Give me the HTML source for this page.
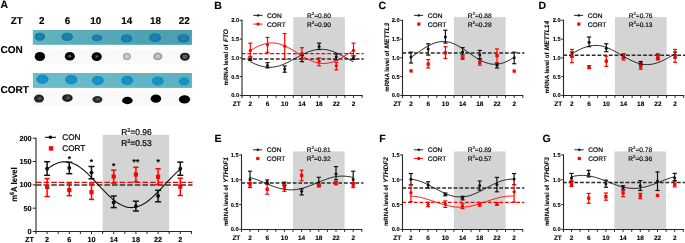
<!DOCTYPE html>
<html><head><meta charset="utf-8"><style>
html,body{margin:0;padding:0;background:#fff;width:685px;height:243px;overflow:hidden;}
svg{display:block;will-change:transform;text-rendering:geometricPrecision;font-family:"Liberation Sans", sans-serif;}
</style></head><body>
<svg width="685" height="243" viewBox="0 0 685 243">
<rect width="685" height="243" fill="#fff"/>
<defs><filter id="b1" x="-50%" y="-50%" width="200%" height="200%"><feGaussianBlur stdDeviation="0.9"/></filter><filter id="b2" x="-50%" y="-50%" width="200%" height="200%"><feGaussianBlur stdDeviation="0.6"/></filter><filter id="b3" x="-50%" y="-50%" width="200%" height="200%"><feGaussianBlur stdDeviation="0.55"/></filter></defs>
<text x="0.50" y="8.00" font-size="10.4" font-weight="bold" text-anchor="start" fill="#000" stroke="#000" stroke-width="0.12"  >A</text>
<text x="10.70" y="24.20" font-size="9.9" font-weight="bold" text-anchor="start" fill="#000" stroke="#000" stroke-width="0.12"  >ZT</text>
<text x="41.70" y="24.20" font-size="9.9" font-weight="bold" text-anchor="middle" fill="#000" stroke="#000" stroke-width="0.12"  >2</text>
<text x="67.40" y="24.20" font-size="9.9" font-weight="bold" text-anchor="middle" fill="#000" stroke="#000" stroke-width="0.12"  >6</text>
<text x="95.80" y="24.20" font-size="9.9" font-weight="bold" text-anchor="middle" fill="#000" stroke="#000" stroke-width="0.12"  >10</text>
<text x="126.80" y="24.20" font-size="9.9" font-weight="bold" text-anchor="middle" fill="#000" stroke="#000" stroke-width="0.12"  >14</text>
<text x="155.60" y="24.20" font-size="9.9" font-weight="bold" text-anchor="middle" fill="#000" stroke="#000" stroke-width="0.12"  >18</text>
<text x="184.30" y="24.20" font-size="9.9" font-weight="bold" text-anchor="middle" fill="#000" stroke="#000" stroke-width="0.12"  >22</text>
<text x="0.60" y="53.00" font-size="10" font-weight="bold" text-anchor="start" fill="#000" stroke="#000" stroke-width="0.12"  >CON</text>
<text x="0.60" y="93.20" font-size="10" font-weight="bold" text-anchor="start" fill="#000" stroke="#000" stroke-width="0.12"  >CORT</text>
<defs><linearGradient id="g1" x1="0" x2="1" y1="0" y2="0"><stop offset="0" stop-color="#64b4c2"/><stop offset="0.35" stop-color="#5aabba"/><stop offset="0.7" stop-color="#4da1b1"/><stop offset="1" stop-color="#4b9fb0"/></linearGradient><linearGradient id="g2" x1="0" x2="1" y1="0" y2="0"><stop offset="0" stop-color="#6cbcca"/><stop offset="0.5" stop-color="#67b8c7"/><stop offset="1" stop-color="#5aafbf"/></linearGradient><radialGradient id="s1"><stop offset="0" stop-color="#1f86b0"/><stop offset="0.6" stop-color="#167fab"/><stop offset="1" stop-color="#0e77a3"/></radialGradient><radialGradient id="s2"><stop offset="0" stop-color="#1a94c6"/><stop offset="0.7" stop-color="#1590c3"/><stop offset="1" stop-color="#118abd"/></radialGradient></defs>
<rect x="32.8" y="30" width="159.1" height="14.8" fill="url(#g1)"/>
<ellipse cx="39.8" cy="36.7" rx="5.3" ry="4.0" fill="url(#s1)" filter="url(#b2)"/>
<ellipse cx="67.2" cy="36.8" rx="5.9" ry="4.1" fill="url(#s1)" filter="url(#b2)"/>
<ellipse cx="97" cy="37.9" rx="5.3" ry="3.4" fill="url(#s1)" filter="url(#b2)"/>
<ellipse cx="126.6" cy="38.4" rx="5.7" ry="4.2" fill="url(#s1)" filter="url(#b2)"/>
<ellipse cx="155.1" cy="37.6" rx="6.0" ry="4.3" fill="url(#s1)" filter="url(#b2)"/>
<ellipse cx="183.5" cy="38.4" rx="5.9" ry="4.2" fill="url(#s1)" filter="url(#b2)"/>
<rect x="32.6" y="49.2" width="159.5" height="14.7" fill="#f9f9f9"/>
<ellipse cx="39.9" cy="56.5" rx="5.2" ry="4.6" fill="#000" filter="url(#b3)"/>
<ellipse cx="69.8" cy="56.3" rx="5.0" ry="4.3" fill="#030303" filter="url(#b3)"/>
<ellipse cx="69.8" cy="56.3" rx="1.50" ry="1.29" fill="#666" filter="url(#b2)"/>
<ellipse cx="96.7" cy="56.6" rx="5.1" ry="4.4" fill="#030303" filter="url(#b3)"/>
<ellipse cx="96.7" cy="56.6" rx="1.53" ry="1.32" fill="#555" filter="url(#b2)"/>
<ellipse cx="126.9" cy="56.4" rx="4.0" ry="3.6" fill="#ababab" filter="url(#b3)"/>
<ellipse cx="126.9" cy="56.4" rx="2.20" ry="1.98" fill="#cfcfcf" filter="url(#b2)"/>
<ellipse cx="157.8" cy="56.4" rx="4.7" ry="3.9" fill="#a3a3a3" filter="url(#b3)"/>
<ellipse cx="157.8" cy="56.4" rx="2.59" ry="2.15" fill="#c4c4c4" filter="url(#b2)"/>
<ellipse cx="184.9" cy="56.7" rx="4.9" ry="4.0" fill="#1e1e1e" filter="url(#b3)"/>
<ellipse cx="184.9" cy="56.7" rx="2.70" ry="2.20" fill="#5a5a5a" filter="url(#b2)"/>
<rect x="32.9" y="73" width="159" height="14.9" fill="url(#g2)"/>
<ellipse cx="42.4" cy="79.3" rx="6.1" ry="4.7" fill="url(#s2)" filter="url(#b2)"/>
<ellipse cx="71.2" cy="79.7" rx="6.2" ry="4.8" fill="url(#s2)" filter="url(#b2)"/>
<ellipse cx="97.8" cy="80.6" rx="6.0" ry="4.6" fill="url(#s2)" filter="url(#b2)"/>
<ellipse cx="127.2" cy="80.4" rx="6.1" ry="4.6" fill="url(#s2)" filter="url(#b2)"/>
<ellipse cx="157.8" cy="81" rx="5.9" ry="4.6" fill="url(#s2)" filter="url(#b2)"/>
<ellipse cx="184" cy="81.4" rx="5.1" ry="3.9" fill="url(#s2)" filter="url(#b2)"/>
<rect x="32.6" y="90.9" width="159.3" height="15.3" fill="#f9f9f9"/>
<ellipse cx="39" cy="98.6" rx="5.0" ry="4.0" fill="#262626" filter="url(#b3)"/>
<ellipse cx="39.6" cy="98.3" rx="2.25" ry="1.60" fill="#505050" filter="url(#b2)"/>
<ellipse cx="67.4" cy="98.1" rx="5.3" ry="3.9" fill="#202020" filter="url(#b3)"/>
<ellipse cx="68.0" cy="97.8" rx="2.38" ry="1.56" fill="#505050" filter="url(#b2)"/>
<ellipse cx="97.4" cy="99.5" rx="5.0" ry="3.4" fill="#2c2c2c" filter="url(#b3)"/>
<ellipse cx="98.0" cy="99.2" rx="2.25" ry="1.36" fill="#505050" filter="url(#b2)"/>
<ellipse cx="127.4" cy="100.5" rx="5.3" ry="3.7" fill="#000" filter="url(#b3)"/>
<ellipse cx="155.9" cy="98.7" rx="5.3" ry="4.1" fill="#000" filter="url(#b3)"/>
<ellipse cx="184.5" cy="99.4" rx="5.6" ry="4.1" fill="#000" filter="url(#b3)"/>
<rect x="102.60" y="134.8" width="66.60" height="96.70" fill="#d4d4d4"/>
<line x1="36.00" y1="182.40" x2="192.50" y2="182.40" stroke="#ff0000" stroke-width="1.4" stroke-dasharray="5.6 2"/>
<line x1="36.00" y1="185.00" x2="192.50" y2="185.00" stroke="#333" stroke-width="1.6" stroke-dasharray="5.6 2"/>
<line x1="36.00" y1="137.70" x2="36.00" y2="234.00" stroke="#262626" stroke-width="1.1" />
<line x1="36.00" y1="231.50" x2="191.90" y2="231.50" stroke="#262626" stroke-width="1.0" />
<line x1="32.70" y1="231.50" x2="36.00" y2="231.50" stroke="#262626" stroke-width="1.0" />
<text x="31.60" y="234.10" font-size="7.3" font-weight="bold" text-anchor="end" fill="#000" stroke="#000" stroke-width="0.11"  >0</text>
<line x1="32.70" y1="208.18" x2="36.00" y2="208.18" stroke="#262626" stroke-width="1.0" />
<text x="31.60" y="210.78" font-size="7.3" font-weight="bold" text-anchor="end" fill="#000" stroke="#000" stroke-width="0.11"  >50</text>
<line x1="32.70" y1="184.85" x2="36.00" y2="184.85" stroke="#262626" stroke-width="1.0" />
<text x="31.60" y="187.45" font-size="7.3" font-weight="bold" text-anchor="end" fill="#000" stroke="#000" stroke-width="0.11"  >100</text>
<line x1="32.70" y1="161.52" x2="36.00" y2="161.52" stroke="#262626" stroke-width="1.0" />
<text x="31.60" y="164.12" font-size="7.3" font-weight="bold" text-anchor="end" fill="#000" stroke="#000" stroke-width="0.11"  >150</text>
<line x1="32.70" y1="138.20" x2="36.00" y2="138.20" stroke="#262626" stroke-width="1.0" />
<text x="31.60" y="140.80" font-size="7.3" font-weight="bold" text-anchor="end" fill="#000" stroke="#000" stroke-width="0.11"  >200</text>
<line x1="47.10" y1="231.50" x2="47.10" y2="234.00" stroke="#262626" stroke-width="1.0" />
<line x1="58.20" y1="231.50" x2="58.20" y2="234.00" stroke="#262626" stroke-width="1.0" />
<line x1="69.30" y1="231.50" x2="69.30" y2="234.00" stroke="#262626" stroke-width="1.0" />
<line x1="80.40" y1="231.50" x2="80.40" y2="234.00" stroke="#262626" stroke-width="1.0" />
<line x1="91.50" y1="231.50" x2="91.50" y2="234.00" stroke="#262626" stroke-width="1.0" />
<line x1="102.60" y1="231.50" x2="102.60" y2="234.00" stroke="#262626" stroke-width="1.0" />
<line x1="113.70" y1="231.50" x2="113.70" y2="234.00" stroke="#262626" stroke-width="1.0" />
<line x1="124.80" y1="231.50" x2="124.80" y2="234.00" stroke="#262626" stroke-width="1.0" />
<line x1="135.90" y1="231.50" x2="135.90" y2="234.00" stroke="#262626" stroke-width="1.0" />
<line x1="147.00" y1="231.50" x2="147.00" y2="234.00" stroke="#262626" stroke-width="1.0" />
<line x1="158.10" y1="231.50" x2="158.10" y2="234.00" stroke="#262626" stroke-width="1.0" />
<line x1="169.20" y1="231.50" x2="169.20" y2="234.00" stroke="#262626" stroke-width="1.0" />
<line x1="180.30" y1="231.50" x2="180.30" y2="234.00" stroke="#262626" stroke-width="1.0" />
<line x1="191.40" y1="231.50" x2="191.40" y2="234.00" stroke="#262626" stroke-width="1.0" />
<text x="25.00" y="242.10" font-size="7.3" font-weight="bold" text-anchor="start" fill="#000" stroke="#000" stroke-width="0.11"  >ZT</text>
<text x="47.10" y="242.10" font-size="7.3" font-weight="bold" text-anchor="middle" fill="#000" stroke="#000" stroke-width="0.11"  >2</text>
<text x="69.30" y="242.10" font-size="7.3" font-weight="bold" text-anchor="middle" fill="#000" stroke="#000" stroke-width="0.11"  >6</text>
<text x="91.50" y="242.10" font-size="7.3" font-weight="bold" text-anchor="middle" fill="#000" stroke="#000" stroke-width="0.11"  >10</text>
<text x="113.70" y="242.10" font-size="7.3" font-weight="bold" text-anchor="middle" fill="#000" stroke="#000" stroke-width="0.11"  >14</text>
<text x="135.90" y="242.10" font-size="7.3" font-weight="bold" text-anchor="middle" fill="#000" stroke="#000" stroke-width="0.11"  >18</text>
<text x="158.10" y="242.10" font-size="7.3" font-weight="bold" text-anchor="middle" fill="#000" stroke="#000" stroke-width="0.11"  >22</text>
<text x="180.30" y="242.10" font-size="7.3" font-weight="bold" text-anchor="middle" fill="#000" stroke="#000" stroke-width="0.11"  >2</text>
<text transform="translate(17.3,184.6) rotate(-90) scale(0.92,1)" font-size="8.4" font-weight="bold" text-anchor="middle" fill="#000" stroke="#000" stroke-width="0.12">m<tspan font-size="6.0" dy="-3.3">6</tspan><tspan dy="3.3">A level</tspan></text>
<line x1="47.10" y1="178.60" x2="47.10" y2="196.50" stroke="#ff0000" stroke-width="1.5" />
<line x1="44.50" y1="178.60" x2="49.70" y2="178.60" stroke="#ff0000" stroke-width="1.5" />
<line x1="44.50" y1="196.50" x2="49.70" y2="196.50" stroke="#ff0000" stroke-width="1.5" />
<rect x="45.00" y="184.90" width="4.2" height="4.2" fill="#ff0000"/>
<line x1="69.30" y1="183.00" x2="69.30" y2="195.70" stroke="#ff0000" stroke-width="1.5" />
<line x1="66.70" y1="183.00" x2="71.90" y2="183.00" stroke="#ff0000" stroke-width="1.5" />
<line x1="66.70" y1="195.70" x2="71.90" y2="195.70" stroke="#ff0000" stroke-width="1.5" />
<rect x="67.20" y="188.00" width="4.2" height="4.2" fill="#ff0000"/>
<line x1="91.50" y1="184.00" x2="91.50" y2="199.40" stroke="#ff0000" stroke-width="1.5" />
<line x1="88.90" y1="184.00" x2="94.10" y2="184.00" stroke="#ff0000" stroke-width="1.5" />
<line x1="88.90" y1="199.40" x2="94.10" y2="199.40" stroke="#ff0000" stroke-width="1.5" />
<rect x="89.40" y="190.10" width="4.2" height="4.2" fill="#ff0000"/>
<line x1="113.70" y1="170.10" x2="113.70" y2="183.10" stroke="#ff0000" stroke-width="1.5" />
<line x1="111.10" y1="170.10" x2="116.30" y2="170.10" stroke="#ff0000" stroke-width="1.5" />
<line x1="111.10" y1="183.10" x2="116.30" y2="183.10" stroke="#ff0000" stroke-width="1.5" />
<rect x="111.60" y="174.40" width="4.2" height="4.2" fill="#ff0000"/>
<line x1="135.90" y1="167.30" x2="135.90" y2="181.70" stroke="#ff0000" stroke-width="1.5" />
<line x1="133.30" y1="167.30" x2="138.50" y2="167.30" stroke="#ff0000" stroke-width="1.5" />
<line x1="133.30" y1="181.70" x2="138.50" y2="181.70" stroke="#ff0000" stroke-width="1.5" />
<rect x="133.80" y="172.40" width="4.2" height="4.2" fill="#ff0000"/>
<line x1="158.10" y1="168.70" x2="158.10" y2="184.50" stroke="#ff0000" stroke-width="1.5" />
<line x1="155.50" y1="168.70" x2="160.70" y2="168.70" stroke="#ff0000" stroke-width="1.5" />
<line x1="155.50" y1="184.50" x2="160.70" y2="184.50" stroke="#ff0000" stroke-width="1.5" />
<rect x="156.00" y="174.70" width="4.2" height="4.2" fill="#ff0000"/>
<line x1="180.30" y1="178.20" x2="180.30" y2="195.50" stroke="#ff0000" stroke-width="1.5" />
<line x1="177.70" y1="178.20" x2="182.90" y2="178.20" stroke="#ff0000" stroke-width="1.5" />
<line x1="177.70" y1="195.50" x2="182.90" y2="195.50" stroke="#ff0000" stroke-width="1.5" />
<rect x="178.20" y="184.50" width="4.2" height="4.2" fill="#ff0000"/>
<line x1="47.10" y1="161.70" x2="47.10" y2="175.30" stroke="#111" stroke-width="1.5" />
<line x1="44.10" y1="161.70" x2="50.10" y2="161.70" stroke="#111" stroke-width="1.5" />
<line x1="44.10" y1="175.30" x2="50.10" y2="175.30" stroke="#111" stroke-width="1.5" />
<circle cx="47.10" cy="168.70" r="1.95" fill="#111"/>
<line x1="69.30" y1="162.30" x2="69.30" y2="173.70" stroke="#111" stroke-width="1.5" />
<line x1="66.30" y1="162.30" x2="72.30" y2="162.30" stroke="#111" stroke-width="1.5" />
<line x1="66.30" y1="173.70" x2="72.30" y2="173.70" stroke="#111" stroke-width="1.5" />
<circle cx="69.30" cy="167.90" r="1.95" fill="#111"/>
<line x1="91.50" y1="166.50" x2="91.50" y2="178.80" stroke="#111" stroke-width="1.5" />
<line x1="88.50" y1="166.50" x2="94.50" y2="166.50" stroke="#111" stroke-width="1.5" />
<line x1="88.50" y1="178.80" x2="94.50" y2="178.80" stroke="#111" stroke-width="1.5" />
<circle cx="91.50" cy="172.60" r="1.95" fill="#111"/>
<line x1="113.70" y1="196.00" x2="113.70" y2="207.60" stroke="#111" stroke-width="1.5" />
<line x1="110.70" y1="196.00" x2="116.70" y2="196.00" stroke="#111" stroke-width="1.5" />
<line x1="110.70" y1="207.60" x2="116.70" y2="207.60" stroke="#111" stroke-width="1.5" />
<circle cx="113.70" cy="202.40" r="1.95" fill="#111"/>
<line x1="135.90" y1="201.20" x2="135.90" y2="211.00" stroke="#111" stroke-width="1.5" />
<line x1="132.90" y1="201.20" x2="138.90" y2="201.20" stroke="#111" stroke-width="1.5" />
<line x1="132.90" y1="211.00" x2="138.90" y2="211.00" stroke="#111" stroke-width="1.5" />
<circle cx="135.90" cy="206.10" r="1.95" fill="#111"/>
<line x1="158.10" y1="190.30" x2="158.10" y2="201.80" stroke="#111" stroke-width="1.5" />
<line x1="155.10" y1="190.30" x2="161.10" y2="190.30" stroke="#111" stroke-width="1.5" />
<line x1="155.10" y1="201.80" x2="161.10" y2="201.80" stroke="#111" stroke-width="1.5" />
<circle cx="158.10" cy="196.00" r="1.95" fill="#111"/>
<line x1="180.30" y1="162.10" x2="180.30" y2="175.30" stroke="#111" stroke-width="1.5" />
<line x1="177.30" y1="162.10" x2="183.30" y2="162.10" stroke="#111" stroke-width="1.5" />
<line x1="177.30" y1="175.30" x2="183.30" y2="175.30" stroke="#111" stroke-width="1.5" />
<circle cx="180.30" cy="168.70" r="1.95" fill="#111"/>
<path d="M47.10,169.29 L49.32,167.59 L51.54,166.08 L53.76,164.77 L55.98,163.68 L58.20,162.82 L60.42,162.20 L62.64,161.83 L64.86,161.70 L67.08,161.83 L69.30,162.20 L71.52,162.82 L73.74,163.68 L75.96,164.77 L78.18,166.08 L80.40,167.59 L82.62,169.29 L84.84,171.16 L87.06,173.18 L89.28,175.32 L91.50,177.56 L93.72,179.88 L95.94,182.25 L98.16,184.65 L100.38,187.05 L102.60,189.42 L104.82,191.74 L107.04,193.98 L109.26,196.12 L111.48,198.14 L113.70,200.01 L115.92,201.71 L118.14,203.22 L120.36,204.53 L122.58,205.62 L124.80,206.48 L127.02,207.10 L129.24,207.47 L131.46,207.60 L133.68,207.47 L135.90,207.10 L138.12,206.48 L140.34,205.62 L142.56,204.53 L144.78,203.22 L147.00,201.71 L149.22,200.01 L151.44,198.14 L153.66,196.13 L155.88,193.98 L158.10,191.74 L160.32,189.42 L162.54,187.05 L164.76,184.65 L166.98,182.25 L169.20,179.88 L171.42,177.56 L173.64,175.32 L175.86,173.18 L178.08,171.16 L180.30,169.29" fill="none" stroke="#111" stroke-width="1.1"/>
<text x="69.30" y="161.70" font-size="8.5" font-weight="bold" text-anchor="middle" fill="#000" stroke="#000" stroke-width="0.12"  >*</text>
<text x="91.50" y="165.00" font-size="8.5" font-weight="bold" text-anchor="middle" fill="#000" stroke="#000" stroke-width="0.12"  >*</text>
<text x="113.70" y="168.90" font-size="8.5" font-weight="bold" text-anchor="middle" fill="#000" stroke="#000" stroke-width="0.12"  >*</text>
<text x="135.90" y="165.30" font-size="8.5" font-weight="bold" text-anchor="middle" fill="#000" stroke="#000" stroke-width="0.12"  >**</text>
<text x="158.10" y="165.30" font-size="8.5" font-weight="bold" text-anchor="middle" fill="#000" stroke="#000" stroke-width="0.12"  >*</text>
<line x1="44.90" y1="137.30" x2="56.00" y2="137.30" stroke="#111" stroke-width="1.1" />
<circle cx="50.4" cy="137.3" r="1.8" fill="#111"/>
<text x="62.30" y="140.20" font-size="8.2" font-weight="normal" text-anchor="start" fill="#000" stroke="#000" stroke-width="0.22"  >CON</text>
<rect x="48.8" y="146.2" width="4.4" height="4.4" fill="#f00"/>
<text x="62.30" y="150.90" font-size="8.2" font-weight="normal" text-anchor="start" fill="#000" stroke="#000" stroke-width="0.22"  >CORT</text>
<text x="121.20" y="135.20" font-size="8.45" font-weight="normal" text-anchor="start" fill="#000" stroke="#000" stroke-width="0.22"  >R<tspan font-size="5.4" dy="-3.1">2</tspan><tspan dy="3.1">=0.96</tspan></text>
<text x="121.20" y="146.40" font-size="8.45" font-weight="normal" text-anchor="start" fill="#000" stroke="#000" stroke-width="0.22"  >R<tspan font-size="5.4" dy="-3.1">2</tspan><tspan dy="3.1">=0.53</tspan></text>
<text x="214.20" y="8.80" font-size="10.5" font-weight="bold" text-anchor="start" fill="#000" stroke="#000" stroke-width="0.12"  >B</text>
<rect x="293.30" y="17.05" width="51.60" height="78.45" fill="#d4d4d4"/>
<line x1="241.70" y1="53.60" x2="363.70" y2="53.60" stroke="#ff0000" stroke-width="1.3" stroke-dasharray="3.8 1.9"/>
<line x1="241.70" y1="58.90" x2="363.70" y2="58.90" stroke="#2a2a2a" stroke-width="1.5" stroke-dasharray="3.8 1.9"/>
<line x1="242.00" y1="19.80" x2="242.00" y2="97.90" stroke="#262626" stroke-width="1.1" />
<line x1="242.00" y1="95.50" x2="362.60" y2="95.50" stroke="#262626" stroke-width="1.0" />
<line x1="239.70" y1="95.40" x2="242.00" y2="95.40" stroke="#262626" stroke-width="1.0" />
<text x="239.10" y="97.40" font-size="5.7" font-weight="bold" text-anchor="end" fill="#000" stroke="#000" stroke-width="0.09"  >0.0</text>
<line x1="239.70" y1="76.62" x2="242.00" y2="76.62" stroke="#262626" stroke-width="1.0" />
<text x="239.10" y="78.62" font-size="5.7" font-weight="bold" text-anchor="end" fill="#000" stroke="#000" stroke-width="0.09"  >0.5</text>
<line x1="239.70" y1="57.85" x2="242.00" y2="57.85" stroke="#262626" stroke-width="1.0" />
<text x="239.10" y="59.85" font-size="5.7" font-weight="bold" text-anchor="end" fill="#000" stroke="#000" stroke-width="0.09"  >1.0</text>
<line x1="239.70" y1="39.08" x2="242.00" y2="39.08" stroke="#262626" stroke-width="1.0" />
<text x="239.10" y="41.08" font-size="5.7" font-weight="bold" text-anchor="end" fill="#000" stroke="#000" stroke-width="0.09"  >1.5</text>
<line x1="239.70" y1="20.30" x2="242.00" y2="20.30" stroke="#262626" stroke-width="1.0" />
<text x="239.10" y="22.30" font-size="5.7" font-weight="bold" text-anchor="end" fill="#000" stroke="#000" stroke-width="0.09"  >2.0</text>
<line x1="250.30" y1="95.50" x2="250.30" y2="97.90" stroke="#262626" stroke-width="1.0" />
<line x1="258.90" y1="95.50" x2="258.90" y2="97.90" stroke="#262626" stroke-width="1.0" />
<line x1="267.50" y1="95.50" x2="267.50" y2="97.90" stroke="#262626" stroke-width="1.0" />
<line x1="276.10" y1="95.50" x2="276.10" y2="97.90" stroke="#262626" stroke-width="1.0" />
<line x1="284.70" y1="95.50" x2="284.70" y2="97.90" stroke="#262626" stroke-width="1.0" />
<line x1="293.30" y1="95.50" x2="293.30" y2="97.90" stroke="#262626" stroke-width="1.0" />
<line x1="301.90" y1="95.50" x2="301.90" y2="97.90" stroke="#262626" stroke-width="1.0" />
<line x1="310.50" y1="95.50" x2="310.50" y2="97.90" stroke="#262626" stroke-width="1.0" />
<line x1="319.10" y1="95.50" x2="319.10" y2="97.90" stroke="#262626" stroke-width="1.0" />
<line x1="327.70" y1="95.50" x2="327.70" y2="97.90" stroke="#262626" stroke-width="1.0" />
<line x1="336.30" y1="95.50" x2="336.30" y2="97.90" stroke="#262626" stroke-width="1.0" />
<line x1="344.90" y1="95.50" x2="344.90" y2="97.90" stroke="#262626" stroke-width="1.0" />
<line x1="353.50" y1="95.50" x2="353.50" y2="97.90" stroke="#262626" stroke-width="1.0" />
<line x1="362.10" y1="95.50" x2="362.10" y2="97.90" stroke="#262626" stroke-width="1.0" />
<text x="232.70" y="105.80" font-size="6.5" font-weight="bold" text-anchor="start" fill="#000" stroke="#000" stroke-width="0.10"  >ZT</text>
<text x="250.30" y="105.80" font-size="6.5" font-weight="bold" text-anchor="middle" fill="#000" stroke="#000" stroke-width="0.10"  >2</text>
<text x="267.50" y="105.80" font-size="6.5" font-weight="bold" text-anchor="middle" fill="#000" stroke="#000" stroke-width="0.10"  >6</text>
<text x="284.70" y="105.80" font-size="6.5" font-weight="bold" text-anchor="middle" fill="#000" stroke="#000" stroke-width="0.10"  >10</text>
<text x="301.90" y="105.80" font-size="6.5" font-weight="bold" text-anchor="middle" fill="#000" stroke="#000" stroke-width="0.10"  >14</text>
<text x="319.10" y="105.80" font-size="6.5" font-weight="bold" text-anchor="middle" fill="#000" stroke="#000" stroke-width="0.10"  >18</text>
<text x="336.30" y="105.80" font-size="6.5" font-weight="bold" text-anchor="middle" fill="#000" stroke="#000" stroke-width="0.10"  >22</text>
<text x="353.50" y="105.80" font-size="6.5" font-weight="bold" text-anchor="middle" fill="#000" stroke="#000" stroke-width="0.10"  >2</text>
<text transform="translate(227.80,57.25) rotate(-90)" font-size="6.1" font-weight="bold" text-anchor="middle" fill="#000" stroke="#000" stroke-width="0.08">mRNA level of<tspan dx="2.3" font-size="6.6" font-style="italic">FTO</tspan></text>
<line x1="250.30" y1="58.00" x2="250.30" y2="60.50" stroke="#111" stroke-width="1.2" />
<line x1="248.20" y1="58.00" x2="252.40" y2="58.00" stroke="#111" stroke-width="1.2" />
<line x1="248.20" y1="60.50" x2="252.40" y2="60.50" stroke="#111" stroke-width="1.2" />
<circle cx="250.30" cy="59.30" r="1.50" fill="#111"/>
<line x1="267.50" y1="62.60" x2="267.50" y2="67.90" stroke="#111" stroke-width="1.2" />
<line x1="265.40" y1="62.60" x2="269.60" y2="62.60" stroke="#111" stroke-width="1.2" />
<line x1="265.40" y1="67.90" x2="269.60" y2="67.90" stroke="#111" stroke-width="1.2" />
<circle cx="267.50" cy="65.40" r="1.50" fill="#111"/>
<line x1="284.70" y1="66.00" x2="284.70" y2="72.20" stroke="#111" stroke-width="1.2" />
<line x1="282.60" y1="66.00" x2="286.80" y2="66.00" stroke="#111" stroke-width="1.2" />
<line x1="282.60" y1="72.20" x2="286.80" y2="72.20" stroke="#111" stroke-width="1.2" />
<circle cx="284.70" cy="69.10" r="1.50" fill="#111"/>
<line x1="301.90" y1="55.50" x2="301.90" y2="61.70" stroke="#111" stroke-width="1.2" />
<line x1="299.80" y1="55.50" x2="304.00" y2="55.50" stroke="#111" stroke-width="1.2" />
<line x1="299.80" y1="61.70" x2="304.00" y2="61.70" stroke="#111" stroke-width="1.2" />
<circle cx="301.90" cy="58.50" r="1.50" fill="#111"/>
<line x1="319.10" y1="43.10" x2="319.10" y2="49.50" stroke="#111" stroke-width="1.2" />
<line x1="317.00" y1="43.10" x2="321.20" y2="43.10" stroke="#111" stroke-width="1.2" />
<line x1="317.00" y1="49.50" x2="321.20" y2="49.50" stroke="#111" stroke-width="1.2" />
<circle cx="319.10" cy="46.50" r="1.50" fill="#111"/>
<line x1="336.30" y1="54.00" x2="336.30" y2="60.10" stroke="#111" stroke-width="1.2" />
<line x1="334.20" y1="54.00" x2="338.40" y2="54.00" stroke="#111" stroke-width="1.2" />
<line x1="334.20" y1="60.10" x2="338.40" y2="60.10" stroke="#111" stroke-width="1.2" />
<circle cx="336.30" cy="56.70" r="1.50" fill="#111"/>
<line x1="353.50" y1="56.00" x2="353.50" y2="59.50" stroke="#111" stroke-width="1.2" />
<line x1="351.40" y1="56.00" x2="355.60" y2="56.00" stroke="#111" stroke-width="1.2" />
<line x1="351.40" y1="59.50" x2="355.60" y2="59.50" stroke="#111" stroke-width="1.2" />
<circle cx="353.50" cy="57.90" r="1.50" fill="#111"/>
<line x1="250.30" y1="43.20" x2="250.30" y2="56.40" stroke="#ff0000" stroke-width="1.2" />
<line x1="248.30" y1="43.20" x2="252.30" y2="43.20" stroke="#ff0000" stroke-width="1.2" />
<line x1="248.30" y1="56.40" x2="252.30" y2="56.40" stroke="#ff0000" stroke-width="1.2" />
<circle cx="250.30" cy="50.60" r="1.65" fill="#ff0000"/>
<line x1="267.50" y1="37.40" x2="267.50" y2="52.30" stroke="#ff0000" stroke-width="1.2" />
<line x1="265.50" y1="37.40" x2="269.50" y2="37.40" stroke="#ff0000" stroke-width="1.2" />
<line x1="265.50" y1="52.30" x2="269.50" y2="52.30" stroke="#ff0000" stroke-width="1.2" />
<circle cx="267.50" cy="44.80" r="1.65" fill="#ff0000"/>
<line x1="284.70" y1="33.60" x2="284.70" y2="59.30" stroke="#ff0000" stroke-width="1.2" />
<line x1="282.70" y1="33.60" x2="286.70" y2="33.60" stroke="#ff0000" stroke-width="1.2" />
<line x1="282.70" y1="59.30" x2="286.70" y2="59.30" stroke="#ff0000" stroke-width="1.2" />
<circle cx="284.70" cy="46.20" r="1.65" fill="#ff0000"/>
<line x1="301.90" y1="47.70" x2="301.90" y2="59.00" stroke="#ff0000" stroke-width="1.2" />
<line x1="299.90" y1="47.70" x2="303.90" y2="47.70" stroke="#ff0000" stroke-width="1.2" />
<line x1="299.90" y1="59.00" x2="303.90" y2="59.00" stroke="#ff0000" stroke-width="1.2" />
<circle cx="301.90" cy="53.30" r="1.65" fill="#ff0000"/>
<line x1="319.10" y1="57.90" x2="319.10" y2="65.80" stroke="#ff0000" stroke-width="1.2" />
<line x1="317.10" y1="57.90" x2="321.10" y2="57.90" stroke="#ff0000" stroke-width="1.2" />
<line x1="317.10" y1="65.80" x2="321.10" y2="65.80" stroke="#ff0000" stroke-width="1.2" />
<circle cx="319.10" cy="61.30" r="1.65" fill="#ff0000"/>
<line x1="336.30" y1="62.40" x2="336.30" y2="69.90" stroke="#ff0000" stroke-width="1.2" />
<line x1="334.30" y1="62.40" x2="338.30" y2="62.40" stroke="#ff0000" stroke-width="1.2" />
<line x1="334.30" y1="69.90" x2="338.30" y2="69.90" stroke="#ff0000" stroke-width="1.2" />
<circle cx="336.30" cy="65.80" r="1.65" fill="#ff0000"/>
<line x1="353.50" y1="43.10" x2="353.50" y2="55.60" stroke="#ff0000" stroke-width="1.2" />
<line x1="351.50" y1="43.10" x2="355.50" y2="43.10" stroke="#ff0000" stroke-width="1.2" />
<line x1="351.50" y1="55.60" x2="355.50" y2="55.60" stroke="#ff0000" stroke-width="1.2" />
<circle cx="353.50" cy="50.40" r="1.65" fill="#ff0000"/>
<path d="M250.30,61.74 L252.02,62.59 L253.74,63.40 L255.46,64.15 L257.18,64.83 L258.90,65.44 L260.62,65.97 L262.34,66.42 L264.06,66.78 L265.78,67.05 L267.50,67.22 L269.22,67.30 L270.94,67.27 L272.66,67.15 L274.38,66.93 L276.10,66.61 L277.82,66.21 L279.54,65.72 L281.26,65.14 L282.98,64.50 L284.70,63.78 L286.42,63.00 L288.14,62.17 L289.86,61.30 L291.58,60.40 L293.30,59.47 L295.02,58.54 L296.74,57.59 L298.46,56.66 L300.18,55.74 L301.90,54.86 L303.62,54.01 L305.34,53.20 L307.06,52.45 L308.78,51.77 L310.50,51.16 L312.22,50.63 L313.94,50.18 L315.66,49.82 L317.38,49.55 L319.10,49.38 L320.82,49.30 L322.54,49.33 L324.26,49.45 L325.98,49.67 L327.70,49.99 L329.42,50.39 L331.14,50.88 L332.86,51.46 L334.58,52.10 L336.30,52.82 L338.02,53.60 L339.74,54.43 L341.46,55.30 L343.18,56.20 L344.90,57.13 L346.62,58.06 L348.34,59.01 L350.06,59.94 L351.78,60.86 L353.50,61.74" fill="none" stroke="#111" stroke-width="0.9"/>
<path d="M250.30,50.53 L252.02,49.51 L253.74,48.52 L255.46,47.59 L257.18,46.72 L258.90,45.92 L260.62,45.20 L262.34,44.56 L264.06,44.02 L265.78,43.58 L267.50,43.25 L269.22,43.03 L270.94,42.91 L272.66,42.91 L274.38,43.03 L276.10,43.25 L277.82,43.58 L279.54,44.02 L281.26,44.56 L282.98,45.20 L284.70,45.92 L286.42,46.72 L288.14,47.59 L289.86,48.52 L291.58,49.51 L293.30,50.53 L295.02,51.59 L296.74,52.66 L298.46,53.74 L300.18,54.81 L301.90,55.87 L303.62,56.89 L305.34,57.88 L307.06,58.81 L308.78,59.68 L310.50,60.48 L312.22,61.20 L313.94,61.84 L315.66,62.38 L317.38,62.82 L319.10,63.15 L320.82,63.37 L322.54,63.49 L324.26,63.49 L325.98,63.37 L327.70,63.15 L329.42,62.82 L331.14,62.38 L332.86,61.84 L334.58,61.20 L336.30,60.48 L338.02,59.68 L339.74,58.81 L341.46,57.88 L343.18,56.89 L344.90,55.87 L346.62,54.81 L348.34,53.74 L350.06,52.66 L351.78,51.59 L353.50,50.53" fill="none" stroke="#ff0000" stroke-width="0.9"/>
<line x1="253.20" y1="15.40" x2="262.50" y2="15.40" stroke="#111" stroke-width="0.9" />
<circle cx="258.10" cy="15.4" r="1.2" fill="#111"/>
<text x="267.10" y="17.50" font-size="6.6" font-weight="normal" text-anchor="start" fill="#000" stroke="#000" stroke-width="0.18"  >CON</text>
<line x1="253.20" y1="24.10" x2="262.50" y2="24.10" stroke="#ff0000" stroke-width="0.9" />
<circle cx="258.10" cy="24.1" r="1.7" fill="#ff0000"/>
<text x="267.10" y="26.60" font-size="6.6" font-weight="normal" text-anchor="start" fill="#000" stroke="#000" stroke-width="0.18"  >CORT</text>
<text x="307.10" y="17.50" font-size="6.6" font-weight="normal" text-anchor="start" fill="#000" stroke="#000" stroke-width="0.18"  >R<tspan font-size="4.3" dy="-2.6">2</tspan><tspan dy="2.6">=0.80</tspan></text>
<text x="307.10" y="26.60" font-size="6.6" font-weight="normal" text-anchor="start" fill="#000" stroke="#000" stroke-width="0.18"  >R<tspan font-size="4.3" dy="-2.6">2</tspan><tspan dy="2.6">=0.90</tspan></text>
<text x="378.50" y="8.80" font-size="10.5" font-weight="bold" text-anchor="start" fill="#000" stroke="#000" stroke-width="0.12"  >C</text>
<rect x="454.00" y="17.05" width="51.60" height="78.45" fill="#d4d4d4"/>
<line x1="402.40" y1="53.00" x2="524.40" y2="53.00" stroke="#2a2a2a" stroke-width="1.5" stroke-dasharray="3.8 1.9"/>
<line x1="402.50" y1="19.80" x2="402.50" y2="97.90" stroke="#262626" stroke-width="1.1" />
<line x1="402.50" y1="95.50" x2="523.30" y2="95.50" stroke="#262626" stroke-width="1.0" />
<line x1="400.20" y1="95.40" x2="402.50" y2="95.40" stroke="#262626" stroke-width="1.0" />
<text x="399.60" y="97.40" font-size="5.7" font-weight="bold" text-anchor="end" fill="#000" stroke="#000" stroke-width="0.09"  >0.0</text>
<line x1="400.20" y1="76.62" x2="402.50" y2="76.62" stroke="#262626" stroke-width="1.0" />
<text x="399.60" y="78.62" font-size="5.7" font-weight="bold" text-anchor="end" fill="#000" stroke="#000" stroke-width="0.09"  >0.5</text>
<line x1="400.20" y1="57.85" x2="402.50" y2="57.85" stroke="#262626" stroke-width="1.0" />
<text x="399.60" y="59.85" font-size="5.7" font-weight="bold" text-anchor="end" fill="#000" stroke="#000" stroke-width="0.09"  >1.0</text>
<line x1="400.20" y1="39.08" x2="402.50" y2="39.08" stroke="#262626" stroke-width="1.0" />
<text x="399.60" y="41.08" font-size="5.7" font-weight="bold" text-anchor="end" fill="#000" stroke="#000" stroke-width="0.09"  >1.5</text>
<line x1="400.20" y1="20.30" x2="402.50" y2="20.30" stroke="#262626" stroke-width="1.0" />
<text x="399.60" y="22.30" font-size="5.7" font-weight="bold" text-anchor="end" fill="#000" stroke="#000" stroke-width="0.09"  >2.0</text>
<line x1="411.00" y1="95.50" x2="411.00" y2="97.90" stroke="#262626" stroke-width="1.0" />
<line x1="419.60" y1="95.50" x2="419.60" y2="97.90" stroke="#262626" stroke-width="1.0" />
<line x1="428.20" y1="95.50" x2="428.20" y2="97.90" stroke="#262626" stroke-width="1.0" />
<line x1="436.80" y1="95.50" x2="436.80" y2="97.90" stroke="#262626" stroke-width="1.0" />
<line x1="445.40" y1="95.50" x2="445.40" y2="97.90" stroke="#262626" stroke-width="1.0" />
<line x1="454.00" y1="95.50" x2="454.00" y2="97.90" stroke="#262626" stroke-width="1.0" />
<line x1="462.60" y1="95.50" x2="462.60" y2="97.90" stroke="#262626" stroke-width="1.0" />
<line x1="471.20" y1="95.50" x2="471.20" y2="97.90" stroke="#262626" stroke-width="1.0" />
<line x1="479.80" y1="95.50" x2="479.80" y2="97.90" stroke="#262626" stroke-width="1.0" />
<line x1="488.40" y1="95.50" x2="488.40" y2="97.90" stroke="#262626" stroke-width="1.0" />
<line x1="497.00" y1="95.50" x2="497.00" y2="97.90" stroke="#262626" stroke-width="1.0" />
<line x1="505.60" y1="95.50" x2="505.60" y2="97.90" stroke="#262626" stroke-width="1.0" />
<line x1="514.20" y1="95.50" x2="514.20" y2="97.90" stroke="#262626" stroke-width="1.0" />
<line x1="522.80" y1="95.50" x2="522.80" y2="97.90" stroke="#262626" stroke-width="1.0" />
<text x="393.40" y="105.80" font-size="6.5" font-weight="bold" text-anchor="start" fill="#000" stroke="#000" stroke-width="0.10"  >ZT</text>
<text x="411.00" y="105.80" font-size="6.5" font-weight="bold" text-anchor="middle" fill="#000" stroke="#000" stroke-width="0.10"  >2</text>
<text x="428.20" y="105.80" font-size="6.5" font-weight="bold" text-anchor="middle" fill="#000" stroke="#000" stroke-width="0.10"  >6</text>
<text x="445.40" y="105.80" font-size="6.5" font-weight="bold" text-anchor="middle" fill="#000" stroke="#000" stroke-width="0.10"  >10</text>
<text x="462.60" y="105.80" font-size="6.5" font-weight="bold" text-anchor="middle" fill="#000" stroke="#000" stroke-width="0.10"  >14</text>
<text x="479.80" y="105.80" font-size="6.5" font-weight="bold" text-anchor="middle" fill="#000" stroke="#000" stroke-width="0.10"  >18</text>
<text x="497.00" y="105.80" font-size="6.5" font-weight="bold" text-anchor="middle" fill="#000" stroke="#000" stroke-width="0.10"  >22</text>
<text x="514.20" y="105.80" font-size="6.5" font-weight="bold" text-anchor="middle" fill="#000" stroke="#000" stroke-width="0.10"  >2</text>
<text transform="translate(388.50,57.25) rotate(-90)" font-size="6.1" font-weight="bold" text-anchor="middle" fill="#000" stroke="#000" stroke-width="0.08">mRNA level of<tspan dx="2.3" font-size="6.6" font-style="italic">METTL3</tspan></text>
<line x1="411.00" y1="52.10" x2="411.00" y2="63.00" stroke="#111" stroke-width="1.2" />
<line x1="408.90" y1="52.10" x2="413.10" y2="52.10" stroke="#111" stroke-width="1.2" />
<line x1="408.90" y1="63.00" x2="413.10" y2="63.00" stroke="#111" stroke-width="1.2" />
<circle cx="411.00" cy="56.90" r="1.50" fill="#111"/>
<line x1="428.20" y1="43.80" x2="428.20" y2="55.10" stroke="#111" stroke-width="1.2" />
<line x1="426.10" y1="43.80" x2="430.30" y2="43.80" stroke="#111" stroke-width="1.2" />
<line x1="426.10" y1="55.10" x2="430.30" y2="55.10" stroke="#111" stroke-width="1.2" />
<circle cx="428.20" cy="49.00" r="1.50" fill="#111"/>
<line x1="445.40" y1="30.20" x2="445.40" y2="43.10" stroke="#111" stroke-width="1.2" />
<line x1="443.30" y1="30.20" x2="447.50" y2="30.20" stroke="#111" stroke-width="1.2" />
<line x1="443.30" y1="43.10" x2="447.50" y2="43.10" stroke="#111" stroke-width="1.2" />
<circle cx="445.40" cy="37.00" r="1.50" fill="#111"/>
<line x1="462.60" y1="47.60" x2="462.60" y2="55.00" stroke="#111" stroke-width="1.2" />
<line x1="460.50" y1="47.60" x2="464.70" y2="47.60" stroke="#111" stroke-width="1.2" />
<line x1="460.50" y1="55.00" x2="464.70" y2="55.00" stroke="#111" stroke-width="1.2" />
<circle cx="462.60" cy="51.90" r="1.50" fill="#111"/>
<line x1="479.80" y1="50.40" x2="479.80" y2="58.70" stroke="#111" stroke-width="1.2" />
<line x1="477.70" y1="50.40" x2="481.90" y2="50.40" stroke="#111" stroke-width="1.2" />
<line x1="477.70" y1="58.70" x2="481.90" y2="58.70" stroke="#111" stroke-width="1.2" />
<circle cx="479.80" cy="55.00" r="1.50" fill="#111"/>
<line x1="497.00" y1="63.00" x2="497.00" y2="68.00" stroke="#111" stroke-width="1.2" />
<line x1="494.90" y1="63.00" x2="499.10" y2="63.00" stroke="#111" stroke-width="1.2" />
<line x1="494.90" y1="68.00" x2="499.10" y2="68.00" stroke="#111" stroke-width="1.2" />
<circle cx="497.00" cy="65.20" r="1.50" fill="#111"/>
<line x1="514.20" y1="52.20" x2="514.20" y2="63.70" stroke="#111" stroke-width="1.2" />
<line x1="512.10" y1="52.20" x2="516.30" y2="52.20" stroke="#111" stroke-width="1.2" />
<line x1="512.10" y1="63.70" x2="516.30" y2="63.70" stroke="#111" stroke-width="1.2" />
<circle cx="514.20" cy="57.80" r="1.50" fill="#111"/>
<rect x="409.35" y="69.25" width="3.3" height="3.3" fill="#ff0000"/>
<line x1="428.20" y1="59.60" x2="428.20" y2="68.00" stroke="#ff0000" stroke-width="1.2" />
<line x1="426.20" y1="59.60" x2="430.20" y2="59.60" stroke="#ff0000" stroke-width="1.2" />
<line x1="426.20" y1="68.00" x2="430.20" y2="68.00" stroke="#ff0000" stroke-width="1.2" />
<rect x="426.55" y="62.45" width="3.3" height="3.3" fill="#ff0000"/>
<line x1="445.40" y1="46.70" x2="445.40" y2="58.50" stroke="#ff0000" stroke-width="1.2" />
<line x1="443.40" y1="46.70" x2="447.40" y2="46.70" stroke="#ff0000" stroke-width="1.2" />
<line x1="443.40" y1="58.50" x2="447.40" y2="58.50" stroke="#ff0000" stroke-width="1.2" />
<rect x="443.75" y="51.15" width="3.3" height="3.3" fill="#ff0000"/>
<line x1="462.60" y1="57.00" x2="462.60" y2="59.20" stroke="#ff0000" stroke-width="1.2" />
<line x1="460.60" y1="57.00" x2="464.60" y2="57.00" stroke="#ff0000" stroke-width="1.2" />
<line x1="460.60" y1="59.20" x2="464.60" y2="59.20" stroke="#ff0000" stroke-width="1.2" />
<rect x="460.95" y="56.45" width="3.3" height="3.3" fill="#ff0000"/>
<line x1="479.80" y1="59.60" x2="479.80" y2="65.20" stroke="#ff0000" stroke-width="1.2" />
<line x1="477.80" y1="59.60" x2="481.80" y2="59.60" stroke="#ff0000" stroke-width="1.2" />
<line x1="477.80" y1="65.20" x2="481.80" y2="65.20" stroke="#ff0000" stroke-width="1.2" />
<rect x="478.15" y="60.75" width="3.3" height="3.3" fill="#ff0000"/>
<line x1="497.00" y1="48.90" x2="497.00" y2="63.00" stroke="#ff0000" stroke-width="1.2" />
<line x1="495.00" y1="48.90" x2="499.00" y2="48.90" stroke="#ff0000" stroke-width="1.2" />
<line x1="495.00" y1="63.00" x2="499.00" y2="63.00" stroke="#ff0000" stroke-width="1.2" />
<rect x="495.35" y="53.95" width="3.3" height="3.3" fill="#ff0000"/>
<rect x="512.55" y="69.45" width="3.3" height="3.3" fill="#ff0000"/>
<path d="M411.00,57.26 L412.72,56.14 L414.44,54.98 L416.16,53.79 L417.88,52.60 L419.60,51.41 L421.32,50.24 L423.04,49.09 L424.76,47.99 L426.48,46.94 L428.20,45.96 L429.92,45.05 L431.64,44.23 L433.36,43.50 L435.08,42.88 L436.80,42.37 L438.52,41.97 L440.24,41.69 L441.96,41.54 L443.68,41.50 L445.40,41.60 L447.12,41.81 L448.84,42.15 L450.56,42.61 L452.28,43.18 L454.00,43.86 L455.72,44.63 L457.44,45.50 L459.16,46.44 L460.88,47.46 L462.60,48.54 L464.32,49.66 L466.04,50.82 L467.76,52.01 L469.48,53.20 L471.20,54.39 L472.92,55.56 L474.64,56.71 L476.36,57.81 L478.08,58.86 L479.80,59.84 L481.52,60.75 L483.24,61.57 L484.96,62.30 L486.68,62.92 L488.40,63.43 L490.12,63.83 L491.84,64.11 L493.56,64.26 L495.28,64.30 L497.00,64.20 L498.72,63.99 L500.44,63.65 L502.16,63.19 L503.88,62.62 L505.60,61.94 L507.32,61.17 L509.04,60.30 L510.76,59.36 L512.48,58.34 L514.20,57.26" fill="none" stroke="#111" stroke-width="0.9"/>
<line x1="413.90" y1="15.40" x2="423.20" y2="15.40" stroke="#111" stroke-width="0.9" />
<circle cx="418.80" cy="15.4" r="1.2" fill="#111"/>
<text x="427.80" y="17.50" font-size="6.6" font-weight="normal" text-anchor="start" fill="#000" stroke="#000" stroke-width="0.18"  >CON</text>
<rect x="417.20" y="22.50" width="3.2" height="3.2" fill="#ff0000"/>
<text x="427.80" y="26.60" font-size="6.6" font-weight="normal" text-anchor="start" fill="#000" stroke="#000" stroke-width="0.18"  >CORT</text>
<text x="467.80" y="17.50" font-size="6.6" font-weight="normal" text-anchor="start" fill="#000" stroke="#000" stroke-width="0.18"  >R<tspan font-size="4.3" dy="-2.6">2</tspan><tspan dy="2.6">=0.88</tspan></text>
<text x="467.80" y="26.60" font-size="6.6" font-weight="normal" text-anchor="start" fill="#000" stroke="#000" stroke-width="0.18"  >R<tspan font-size="4.3" dy="-2.6">2</tspan><tspan dy="2.6">=0.28</tspan></text>
<text x="538.60" y="8.80" font-size="10.5" font-weight="bold" text-anchor="start" fill="#000" stroke="#000" stroke-width="0.12"  >D</text>
<rect x="614.90" y="17.05" width="51.60" height="78.45" fill="#d4d4d4"/>
<line x1="563.30" y1="55.30" x2="685.30" y2="55.30" stroke="#2a2a2a" stroke-width="1.5" stroke-dasharray="3.8 1.9"/>
<line x1="563.50" y1="19.80" x2="563.50" y2="97.90" stroke="#262626" stroke-width="1.1" />
<line x1="563.50" y1="95.50" x2="684.20" y2="95.50" stroke="#262626" stroke-width="1.0" />
<line x1="561.20" y1="95.40" x2="563.50" y2="95.40" stroke="#262626" stroke-width="1.0" />
<text x="560.60" y="97.40" font-size="5.7" font-weight="bold" text-anchor="end" fill="#000" stroke="#000" stroke-width="0.09"  >0.0</text>
<line x1="561.20" y1="76.62" x2="563.50" y2="76.62" stroke="#262626" stroke-width="1.0" />
<text x="560.60" y="78.62" font-size="5.7" font-weight="bold" text-anchor="end" fill="#000" stroke="#000" stroke-width="0.09"  >0.5</text>
<line x1="561.20" y1="57.85" x2="563.50" y2="57.85" stroke="#262626" stroke-width="1.0" />
<text x="560.60" y="59.85" font-size="5.7" font-weight="bold" text-anchor="end" fill="#000" stroke="#000" stroke-width="0.09"  >1.0</text>
<line x1="561.20" y1="39.08" x2="563.50" y2="39.08" stroke="#262626" stroke-width="1.0" />
<text x="560.60" y="41.08" font-size="5.7" font-weight="bold" text-anchor="end" fill="#000" stroke="#000" stroke-width="0.09"  >1.5</text>
<line x1="561.20" y1="20.30" x2="563.50" y2="20.30" stroke="#262626" stroke-width="1.0" />
<text x="560.60" y="22.30" font-size="5.7" font-weight="bold" text-anchor="end" fill="#000" stroke="#000" stroke-width="0.09"  >2.0</text>
<line x1="571.90" y1="95.50" x2="571.90" y2="97.90" stroke="#262626" stroke-width="1.0" />
<line x1="580.50" y1="95.50" x2="580.50" y2="97.90" stroke="#262626" stroke-width="1.0" />
<line x1="589.10" y1="95.50" x2="589.10" y2="97.90" stroke="#262626" stroke-width="1.0" />
<line x1="597.70" y1="95.50" x2="597.70" y2="97.90" stroke="#262626" stroke-width="1.0" />
<line x1="606.30" y1="95.50" x2="606.30" y2="97.90" stroke="#262626" stroke-width="1.0" />
<line x1="614.90" y1="95.50" x2="614.90" y2="97.90" stroke="#262626" stroke-width="1.0" />
<line x1="623.50" y1="95.50" x2="623.50" y2="97.90" stroke="#262626" stroke-width="1.0" />
<line x1="632.10" y1="95.50" x2="632.10" y2="97.90" stroke="#262626" stroke-width="1.0" />
<line x1="640.70" y1="95.50" x2="640.70" y2="97.90" stroke="#262626" stroke-width="1.0" />
<line x1="649.30" y1="95.50" x2="649.30" y2="97.90" stroke="#262626" stroke-width="1.0" />
<line x1="657.90" y1="95.50" x2="657.90" y2="97.90" stroke="#262626" stroke-width="1.0" />
<line x1="666.50" y1="95.50" x2="666.50" y2="97.90" stroke="#262626" stroke-width="1.0" />
<line x1="675.10" y1="95.50" x2="675.10" y2="97.90" stroke="#262626" stroke-width="1.0" />
<line x1="683.70" y1="95.50" x2="683.70" y2="97.90" stroke="#262626" stroke-width="1.0" />
<text x="554.30" y="105.80" font-size="6.5" font-weight="bold" text-anchor="start" fill="#000" stroke="#000" stroke-width="0.10"  >ZT</text>
<text x="571.90" y="105.80" font-size="6.5" font-weight="bold" text-anchor="middle" fill="#000" stroke="#000" stroke-width="0.10"  >2</text>
<text x="589.10" y="105.80" font-size="6.5" font-weight="bold" text-anchor="middle" fill="#000" stroke="#000" stroke-width="0.10"  >6</text>
<text x="606.30" y="105.80" font-size="6.5" font-weight="bold" text-anchor="middle" fill="#000" stroke="#000" stroke-width="0.10"  >10</text>
<text x="623.50" y="105.80" font-size="6.5" font-weight="bold" text-anchor="middle" fill="#000" stroke="#000" stroke-width="0.10"  >14</text>
<text x="640.70" y="105.80" font-size="6.5" font-weight="bold" text-anchor="middle" fill="#000" stroke="#000" stroke-width="0.10"  >18</text>
<text x="657.90" y="105.80" font-size="6.5" font-weight="bold" text-anchor="middle" fill="#000" stroke="#000" stroke-width="0.10"  >22</text>
<text x="675.10" y="105.80" font-size="6.5" font-weight="bold" text-anchor="middle" fill="#000" stroke="#000" stroke-width="0.10"  >2</text>
<text transform="translate(549.40,57.25) rotate(-90)" font-size="6.1" font-weight="bold" text-anchor="middle" fill="#000" stroke="#000" stroke-width="0.08">mRNA level of<tspan dx="2.3" font-size="6.6" font-style="italic">METTL14</tspan></text>
<line x1="571.90" y1="52.00" x2="571.90" y2="57.00" stroke="#111" stroke-width="1.2" />
<line x1="569.80" y1="52.00" x2="574.00" y2="52.00" stroke="#111" stroke-width="1.2" />
<line x1="569.80" y1="57.00" x2="574.00" y2="57.00" stroke="#111" stroke-width="1.2" />
<circle cx="571.90" cy="54.00" r="1.50" fill="#111"/>
<line x1="589.10" y1="37.00" x2="589.10" y2="46.70" stroke="#111" stroke-width="1.2" />
<line x1="587.00" y1="37.00" x2="591.20" y2="37.00" stroke="#111" stroke-width="1.2" />
<line x1="587.00" y1="46.70" x2="591.20" y2="46.70" stroke="#111" stroke-width="1.2" />
<circle cx="589.10" cy="42.20" r="1.50" fill="#111"/>
<line x1="606.30" y1="43.80" x2="606.30" y2="51.70" stroke="#111" stroke-width="1.2" />
<line x1="604.20" y1="43.80" x2="608.40" y2="43.80" stroke="#111" stroke-width="1.2" />
<line x1="604.20" y1="51.70" x2="608.40" y2="51.70" stroke="#111" stroke-width="1.2" />
<circle cx="606.30" cy="48.30" r="1.50" fill="#111"/>
<line x1="623.50" y1="54.00" x2="623.50" y2="58.00" stroke="#111" stroke-width="1.2" />
<line x1="621.40" y1="54.00" x2="625.60" y2="54.00" stroke="#111" stroke-width="1.2" />
<line x1="621.40" y1="58.00" x2="625.60" y2="58.00" stroke="#111" stroke-width="1.2" />
<circle cx="623.50" cy="56.00" r="1.50" fill="#111"/>
<line x1="640.70" y1="61.50" x2="640.70" y2="65.00" stroke="#111" stroke-width="1.2" />
<line x1="638.60" y1="61.50" x2="642.80" y2="61.50" stroke="#111" stroke-width="1.2" />
<line x1="638.60" y1="65.00" x2="642.80" y2="65.00" stroke="#111" stroke-width="1.2" />
<circle cx="640.70" cy="63.30" r="1.50" fill="#111"/>
<line x1="657.90" y1="55.00" x2="657.90" y2="59.00" stroke="#111" stroke-width="1.2" />
<line x1="655.80" y1="55.00" x2="660.00" y2="55.00" stroke="#111" stroke-width="1.2" />
<line x1="655.80" y1="59.00" x2="660.00" y2="59.00" stroke="#111" stroke-width="1.2" />
<circle cx="657.90" cy="57.00" r="1.50" fill="#111"/>
<line x1="675.10" y1="52.00" x2="675.10" y2="58.00" stroke="#111" stroke-width="1.2" />
<line x1="673.00" y1="52.00" x2="677.20" y2="52.00" stroke="#111" stroke-width="1.2" />
<line x1="673.00" y1="58.00" x2="677.20" y2="58.00" stroke="#111" stroke-width="1.2" />
<circle cx="675.10" cy="55.00" r="1.50" fill="#111"/>
<line x1="571.90" y1="49.40" x2="571.90" y2="62.60" stroke="#ff0000" stroke-width="1.2" />
<line x1="569.90" y1="49.40" x2="573.90" y2="49.40" stroke="#ff0000" stroke-width="1.2" />
<line x1="569.90" y1="62.60" x2="573.90" y2="62.60" stroke="#ff0000" stroke-width="1.2" />
<rect x="570.25" y="54.55" width="3.3" height="3.3" fill="#ff0000"/>
<line x1="589.10" y1="65.60" x2="589.10" y2="68.60" stroke="#ff0000" stroke-width="1.2" />
<line x1="587.10" y1="65.60" x2="591.10" y2="65.60" stroke="#ff0000" stroke-width="1.2" />
<line x1="587.10" y1="68.60" x2="591.10" y2="68.60" stroke="#ff0000" stroke-width="1.2" />
<rect x="587.45" y="65.45" width="3.3" height="3.3" fill="#ff0000"/>
<line x1="606.30" y1="56.20" x2="606.30" y2="66.40" stroke="#ff0000" stroke-width="1.2" />
<line x1="604.30" y1="56.20" x2="608.30" y2="56.20" stroke="#ff0000" stroke-width="1.2" />
<line x1="604.30" y1="66.40" x2="608.30" y2="66.40" stroke="#ff0000" stroke-width="1.2" />
<rect x="604.65" y="59.55" width="3.3" height="3.3" fill="#ff0000"/>
<line x1="623.50" y1="53.70" x2="623.50" y2="60.00" stroke="#ff0000" stroke-width="1.2" />
<line x1="621.50" y1="53.70" x2="625.50" y2="53.70" stroke="#ff0000" stroke-width="1.2" />
<line x1="621.50" y1="60.00" x2="625.50" y2="60.00" stroke="#ff0000" stroke-width="1.2" />
<rect x="621.85" y="55.25" width="3.3" height="3.3" fill="#ff0000"/>
<line x1="640.70" y1="63.30" x2="640.70" y2="69.30" stroke="#ff0000" stroke-width="1.2" />
<line x1="638.70" y1="63.30" x2="642.70" y2="63.30" stroke="#ff0000" stroke-width="1.2" />
<line x1="638.70" y1="69.30" x2="642.70" y2="69.30" stroke="#ff0000" stroke-width="1.2" />
<rect x="639.05" y="65.05" width="3.3" height="3.3" fill="#ff0000"/>
<line x1="657.90" y1="53.70" x2="657.90" y2="60.00" stroke="#ff0000" stroke-width="1.2" />
<line x1="655.90" y1="53.70" x2="659.90" y2="53.70" stroke="#ff0000" stroke-width="1.2" />
<line x1="655.90" y1="60.00" x2="659.90" y2="60.00" stroke="#ff0000" stroke-width="1.2" />
<rect x="656.25" y="55.25" width="3.3" height="3.3" fill="#ff0000"/>
<line x1="675.10" y1="49.40" x2="675.10" y2="62.40" stroke="#ff0000" stroke-width="1.2" />
<line x1="673.10" y1="49.40" x2="677.10" y2="49.40" stroke="#ff0000" stroke-width="1.2" />
<line x1="673.10" y1="62.40" x2="677.10" y2="62.40" stroke="#ff0000" stroke-width="1.2" />
<rect x="673.45" y="54.25" width="3.3" height="3.3" fill="#ff0000"/>
<path d="M571.90,53.75 L573.62,52.76 L575.34,51.80 L577.06,50.87 L578.78,49.98 L580.50,49.16 L582.22,48.39 L583.94,47.70 L585.66,47.09 L587.38,46.56 L589.10,46.13 L590.82,45.80 L592.54,45.56 L594.26,45.43 L595.98,45.40 L597.70,45.48 L599.42,45.67 L601.14,45.95 L602.86,46.34 L604.58,46.81 L606.30,47.38 L608.02,48.04 L609.74,48.77 L611.46,49.56 L613.18,50.42 L614.90,51.33 L616.62,52.27 L618.34,53.25 L620.06,54.25 L621.78,55.25 L623.50,56.25 L625.22,57.24 L626.94,58.20 L628.66,59.13 L630.38,60.02 L632.10,60.84 L633.82,61.61 L635.54,62.30 L637.26,62.91 L638.98,63.44 L640.70,63.87 L642.42,64.20 L644.14,64.44 L645.86,64.57 L647.58,64.60 L649.30,64.52 L651.02,64.33 L652.74,64.05 L654.46,63.66 L656.18,63.19 L657.90,62.62 L659.62,61.96 L661.34,61.23 L663.06,60.44 L664.78,59.58 L666.50,58.67 L668.22,57.73 L669.94,56.75 L671.66,55.75 L673.38,54.75 L675.10,53.75" fill="none" stroke="#111" stroke-width="0.9"/>
<line x1="573.90" y1="15.40" x2="583.20" y2="15.40" stroke="#111" stroke-width="0.9" />
<circle cx="578.80" cy="15.4" r="1.2" fill="#111"/>
<text x="587.80" y="17.50" font-size="6.6" font-weight="normal" text-anchor="start" fill="#000" stroke="#000" stroke-width="0.18"  >CON</text>
<rect x="577.20" y="22.50" width="3.2" height="3.2" fill="#ff0000"/>
<text x="587.80" y="26.60" font-size="6.6" font-weight="normal" text-anchor="start" fill="#000" stroke="#000" stroke-width="0.18"  >CORT</text>
<text x="628.70" y="17.50" font-size="6.6" font-weight="normal" text-anchor="start" fill="#000" stroke="#000" stroke-width="0.18"  >R<tspan font-size="4.3" dy="-2.6">2</tspan><tspan dy="2.6">=0.76</tspan></text>
<text x="628.70" y="26.60" font-size="6.6" font-weight="normal" text-anchor="start" fill="#000" stroke="#000" stroke-width="0.18"  >R<tspan font-size="4.3" dy="-2.6">2</tspan><tspan dy="2.6">=0.13</tspan></text>
<text x="214.50" y="141.50" font-size="10.5" font-weight="bold" text-anchor="start" fill="#000" stroke="#000" stroke-width="0.12"  >E</text>
<rect x="293.00" y="151.4" width="51.60" height="78.10" fill="#d4d4d4"/>
<line x1="241.40" y1="183.10" x2="363.40" y2="183.10" stroke="#2a2a2a" stroke-width="1.5" stroke-dasharray="3.8 1.9"/>
<line x1="241.50" y1="154.40" x2="241.50" y2="231.90" stroke="#262626" stroke-width="1.1" />
<line x1="241.50" y1="229.50" x2="362.30" y2="229.50" stroke="#262626" stroke-width="1.0" />
<line x1="239.20" y1="229.40" x2="241.50" y2="229.40" stroke="#262626" stroke-width="1.0" />
<text x="238.60" y="231.40" font-size="5.7" font-weight="bold" text-anchor="end" fill="#000" stroke="#000" stroke-width="0.09"  >0.0</text>
<line x1="239.20" y1="204.56" x2="241.50" y2="204.56" stroke="#262626" stroke-width="1.0" />
<text x="238.60" y="206.56" font-size="5.7" font-weight="bold" text-anchor="end" fill="#000" stroke="#000" stroke-width="0.09"  >0.5</text>
<line x1="239.20" y1="179.73" x2="241.50" y2="179.73" stroke="#262626" stroke-width="1.0" />
<text x="238.60" y="181.73" font-size="5.7" font-weight="bold" text-anchor="end" fill="#000" stroke="#000" stroke-width="0.09"  >1.0</text>
<line x1="239.20" y1="154.90" x2="241.50" y2="154.90" stroke="#262626" stroke-width="1.0" />
<text x="238.60" y="156.90" font-size="5.7" font-weight="bold" text-anchor="end" fill="#000" stroke="#000" stroke-width="0.09"  >1.5</text>
<line x1="250.00" y1="229.50" x2="250.00" y2="231.90" stroke="#262626" stroke-width="1.0" />
<line x1="258.60" y1="229.50" x2="258.60" y2="231.90" stroke="#262626" stroke-width="1.0" />
<line x1="267.20" y1="229.50" x2="267.20" y2="231.90" stroke="#262626" stroke-width="1.0" />
<line x1="275.80" y1="229.50" x2="275.80" y2="231.90" stroke="#262626" stroke-width="1.0" />
<line x1="284.40" y1="229.50" x2="284.40" y2="231.90" stroke="#262626" stroke-width="1.0" />
<line x1="293.00" y1="229.50" x2="293.00" y2="231.90" stroke="#262626" stroke-width="1.0" />
<line x1="301.60" y1="229.50" x2="301.60" y2="231.90" stroke="#262626" stroke-width="1.0" />
<line x1="310.20" y1="229.50" x2="310.20" y2="231.90" stroke="#262626" stroke-width="1.0" />
<line x1="318.80" y1="229.50" x2="318.80" y2="231.90" stroke="#262626" stroke-width="1.0" />
<line x1="327.40" y1="229.50" x2="327.40" y2="231.90" stroke="#262626" stroke-width="1.0" />
<line x1="336.00" y1="229.50" x2="336.00" y2="231.90" stroke="#262626" stroke-width="1.0" />
<line x1="344.60" y1="229.50" x2="344.60" y2="231.90" stroke="#262626" stroke-width="1.0" />
<line x1="353.20" y1="229.50" x2="353.20" y2="231.90" stroke="#262626" stroke-width="1.0" />
<line x1="361.80" y1="229.50" x2="361.80" y2="231.90" stroke="#262626" stroke-width="1.0" />
<text x="232.40" y="240.00" font-size="6.5" font-weight="bold" text-anchor="start" fill="#000" stroke="#000" stroke-width="0.10"  >ZT</text>
<text x="250.00" y="240.00" font-size="6.5" font-weight="bold" text-anchor="middle" fill="#000" stroke="#000" stroke-width="0.10"  >2</text>
<text x="267.20" y="240.00" font-size="6.5" font-weight="bold" text-anchor="middle" fill="#000" stroke="#000" stroke-width="0.10"  >6</text>
<text x="284.40" y="240.00" font-size="6.5" font-weight="bold" text-anchor="middle" fill="#000" stroke="#000" stroke-width="0.10"  >10</text>
<text x="301.60" y="240.00" font-size="6.5" font-weight="bold" text-anchor="middle" fill="#000" stroke="#000" stroke-width="0.10"  >14</text>
<text x="318.80" y="240.00" font-size="6.5" font-weight="bold" text-anchor="middle" fill="#000" stroke="#000" stroke-width="0.10"  >18</text>
<text x="336.00" y="240.00" font-size="6.5" font-weight="bold" text-anchor="middle" fill="#000" stroke="#000" stroke-width="0.10"  >22</text>
<text x="353.20" y="240.00" font-size="6.5" font-weight="bold" text-anchor="middle" fill="#000" stroke="#000" stroke-width="0.10"  >2</text>
<text transform="translate(227.50,191.55) rotate(-90)" font-size="6.1" font-weight="bold" text-anchor="middle" fill="#000" stroke="#000" stroke-width="0.08">mRNA level of<tspan dx="2.3" font-size="6.6" font-style="italic">YTHDF1</tspan></text>
<line x1="250.00" y1="171.20" x2="250.00" y2="183.00" stroke="#111" stroke-width="1.2" />
<line x1="247.90" y1="171.20" x2="252.10" y2="171.20" stroke="#111" stroke-width="1.2" />
<line x1="247.90" y1="183.00" x2="252.10" y2="183.00" stroke="#111" stroke-width="1.2" />
<circle cx="250.00" cy="179.40" r="1.50" fill="#111"/>
<line x1="267.20" y1="180.00" x2="267.20" y2="183.80" stroke="#111" stroke-width="1.2" />
<line x1="265.10" y1="180.00" x2="269.30" y2="180.00" stroke="#111" stroke-width="1.2" />
<line x1="265.10" y1="183.80" x2="269.30" y2="183.80" stroke="#111" stroke-width="1.2" />
<circle cx="267.20" cy="182.20" r="1.50" fill="#111"/>
<line x1="284.40" y1="182.20" x2="284.40" y2="185.40" stroke="#111" stroke-width="1.2" />
<line x1="282.30" y1="182.20" x2="286.50" y2="182.20" stroke="#111" stroke-width="1.2" />
<line x1="282.30" y1="185.40" x2="286.50" y2="185.40" stroke="#111" stroke-width="1.2" />
<circle cx="284.40" cy="183.80" r="1.50" fill="#111"/>
<line x1="301.60" y1="188.80" x2="301.60" y2="194.90" stroke="#111" stroke-width="1.2" />
<line x1="299.50" y1="188.80" x2="303.70" y2="188.80" stroke="#111" stroke-width="1.2" />
<line x1="299.50" y1="194.90" x2="303.70" y2="194.90" stroke="#111" stroke-width="1.2" />
<circle cx="301.60" cy="191.30" r="1.50" fill="#111"/>
<line x1="318.80" y1="177.30" x2="318.80" y2="185.50" stroke="#111" stroke-width="1.2" />
<line x1="316.70" y1="177.30" x2="320.90" y2="177.30" stroke="#111" stroke-width="1.2" />
<line x1="316.70" y1="185.50" x2="320.90" y2="185.50" stroke="#111" stroke-width="1.2" />
<circle cx="318.80" cy="182.60" r="1.50" fill="#111"/>
<line x1="336.00" y1="166.60" x2="336.00" y2="179.80" stroke="#111" stroke-width="1.2" />
<line x1="333.90" y1="166.60" x2="338.10" y2="166.60" stroke="#111" stroke-width="1.2" />
<line x1="333.90" y1="179.80" x2="338.10" y2="179.80" stroke="#111" stroke-width="1.2" />
<circle cx="336.00" cy="174.00" r="1.50" fill="#111"/>
<line x1="353.20" y1="171.20" x2="353.20" y2="183.00" stroke="#111" stroke-width="1.2" />
<line x1="351.10" y1="171.20" x2="355.30" y2="171.20" stroke="#111" stroke-width="1.2" />
<line x1="351.10" y1="183.00" x2="355.30" y2="183.00" stroke="#111" stroke-width="1.2" />
<circle cx="353.20" cy="179.40" r="1.50" fill="#111"/>
<line x1="250.00" y1="182.70" x2="250.00" y2="187.60" stroke="#ff0000" stroke-width="1.2" />
<line x1="248.00" y1="182.70" x2="252.00" y2="182.70" stroke="#ff0000" stroke-width="1.2" />
<line x1="248.00" y1="187.60" x2="252.00" y2="187.60" stroke="#ff0000" stroke-width="1.2" />
<rect x="248.35" y="183.35" width="3.3" height="3.3" fill="#ff0000"/>
<line x1="267.20" y1="184.30" x2="267.20" y2="194.20" stroke="#ff0000" stroke-width="1.2" />
<line x1="265.20" y1="184.30" x2="269.20" y2="184.30" stroke="#ff0000" stroke-width="1.2" />
<line x1="265.20" y1="194.20" x2="269.20" y2="194.20" stroke="#ff0000" stroke-width="1.2" />
<rect x="265.55" y="187.65" width="3.3" height="3.3" fill="#ff0000"/>
<line x1="284.40" y1="184.30" x2="284.40" y2="191.30" stroke="#ff0000" stroke-width="1.2" />
<line x1="282.40" y1="184.30" x2="286.40" y2="184.30" stroke="#ff0000" stroke-width="1.2" />
<line x1="282.40" y1="191.30" x2="286.40" y2="191.30" stroke="#ff0000" stroke-width="1.2" />
<rect x="282.75" y="185.45" width="3.3" height="3.3" fill="#ff0000"/>
<line x1="301.60" y1="170.20" x2="301.60" y2="180.60" stroke="#ff0000" stroke-width="1.2" />
<line x1="299.60" y1="170.20" x2="303.60" y2="170.20" stroke="#ff0000" stroke-width="1.2" />
<line x1="299.60" y1="180.60" x2="303.60" y2="180.60" stroke="#ff0000" stroke-width="1.2" />
<rect x="299.95" y="173.65" width="3.3" height="3.3" fill="#ff0000"/>
<line x1="318.80" y1="184.00" x2="318.80" y2="187.00" stroke="#ff0000" stroke-width="1.2" />
<line x1="316.80" y1="184.00" x2="320.80" y2="184.00" stroke="#ff0000" stroke-width="1.2" />
<line x1="316.80" y1="187.00" x2="320.80" y2="187.00" stroke="#ff0000" stroke-width="1.2" />
<rect x="317.15" y="183.85" width="3.3" height="3.3" fill="#ff0000"/>
<line x1="336.00" y1="181.50" x2="336.00" y2="184.70" stroke="#ff0000" stroke-width="1.2" />
<line x1="334.00" y1="181.50" x2="338.00" y2="181.50" stroke="#ff0000" stroke-width="1.2" />
<line x1="334.00" y1="184.70" x2="338.00" y2="184.70" stroke="#ff0000" stroke-width="1.2" />
<rect x="334.35" y="181.45" width="3.3" height="3.3" fill="#ff0000"/>
<line x1="353.20" y1="182.70" x2="353.20" y2="187.60" stroke="#ff0000" stroke-width="1.2" />
<line x1="351.20" y1="182.70" x2="355.20" y2="182.70" stroke="#ff0000" stroke-width="1.2" />
<line x1="351.20" y1="187.60" x2="355.20" y2="187.60" stroke="#ff0000" stroke-width="1.2" />
<rect x="351.55" y="183.35" width="3.3" height="3.3" fill="#ff0000"/>
<path d="M250.00,177.53 L251.72,177.99 L253.44,178.52 L255.16,179.09 L256.88,179.71 L258.60,180.36 L260.32,181.04 L262.04,181.74 L263.76,182.46 L265.48,183.18 L267.20,183.90 L268.92,184.61 L270.64,185.30 L272.36,185.97 L274.08,186.61 L275.80,187.20 L277.52,187.75 L279.24,188.25 L280.96,188.69 L282.68,189.06 L284.40,189.37 L286.12,189.62 L287.84,189.78 L289.56,189.88 L291.28,189.90 L293.00,189.84 L294.72,189.71 L296.44,189.50 L298.16,189.23 L299.88,188.88 L301.60,188.47 L303.32,188.01 L305.04,187.48 L306.76,186.91 L308.48,186.29 L310.20,185.64 L311.92,184.96 L313.64,184.26 L315.36,183.54 L317.08,182.82 L318.80,182.10 L320.52,181.39 L322.24,180.70 L323.96,180.03 L325.68,179.39 L327.40,178.80 L329.12,178.25 L330.84,177.75 L332.56,177.31 L334.28,176.94 L336.00,176.63 L337.72,176.38 L339.44,176.22 L341.16,176.12 L342.88,176.10 L344.60,176.16 L346.32,176.29 L348.04,176.50 L349.76,176.77 L351.48,177.12 L353.20,177.53" fill="none" stroke="#111" stroke-width="0.9"/>
<line x1="252.90" y1="149.80" x2="262.20" y2="149.80" stroke="#111" stroke-width="0.9" />
<circle cx="257.80" cy="149.8" r="1.2" fill="#111"/>
<text x="266.80" y="151.80" font-size="6.6" font-weight="normal" text-anchor="start" fill="#000" stroke="#000" stroke-width="0.18"  >CON</text>
<rect x="256.20" y="156.90" width="3.2" height="3.2" fill="#ff0000"/>
<text x="266.80" y="160.80" font-size="6.6" font-weight="normal" text-anchor="start" fill="#000" stroke="#000" stroke-width="0.18"  >CORT</text>
<text x="306.80" y="151.80" font-size="6.6" font-weight="normal" text-anchor="start" fill="#000" stroke="#000" stroke-width="0.18"  >R<tspan font-size="4.3" dy="-2.6">2</tspan><tspan dy="2.6">=0.81</tspan></text>
<text x="306.80" y="160.80" font-size="6.6" font-weight="normal" text-anchor="start" fill="#000" stroke="#000" stroke-width="0.18"  >R<tspan font-size="4.3" dy="-2.6">2</tspan><tspan dy="2.6">=0.32</tspan></text>
<text x="379.20" y="141.50" font-size="10.5" font-weight="bold" text-anchor="start" fill="#000" stroke="#000" stroke-width="0.12"  >F</text>
<rect x="453.90" y="151.4" width="51.60" height="78.10" fill="#d4d4d4"/>
<line x1="402.30" y1="202.30" x2="524.30" y2="202.30" stroke="#ff0000" stroke-width="1.3" stroke-dasharray="3.8 1.9"/>
<line x1="402.30" y1="188.00" x2="524.30" y2="188.00" stroke="#2a2a2a" stroke-width="1.5" stroke-dasharray="3.8 1.9"/>
<line x1="402.50" y1="154.40" x2="402.50" y2="231.90" stroke="#262626" stroke-width="1.1" />
<line x1="402.50" y1="229.50" x2="523.20" y2="229.50" stroke="#262626" stroke-width="1.0" />
<line x1="400.20" y1="229.40" x2="402.50" y2="229.40" stroke="#262626" stroke-width="1.0" />
<text x="399.60" y="231.40" font-size="5.7" font-weight="bold" text-anchor="end" fill="#000" stroke="#000" stroke-width="0.09"  >0.0</text>
<line x1="400.20" y1="204.56" x2="402.50" y2="204.56" stroke="#262626" stroke-width="1.0" />
<text x="399.60" y="206.56" font-size="5.7" font-weight="bold" text-anchor="end" fill="#000" stroke="#000" stroke-width="0.09"  >0.5</text>
<line x1="400.20" y1="179.73" x2="402.50" y2="179.73" stroke="#262626" stroke-width="1.0" />
<text x="399.60" y="181.73" font-size="5.7" font-weight="bold" text-anchor="end" fill="#000" stroke="#000" stroke-width="0.09"  >1.0</text>
<line x1="400.20" y1="154.90" x2="402.50" y2="154.90" stroke="#262626" stroke-width="1.0" />
<text x="399.60" y="156.90" font-size="5.7" font-weight="bold" text-anchor="end" fill="#000" stroke="#000" stroke-width="0.09"  >1.5</text>
<line x1="410.90" y1="229.50" x2="410.90" y2="231.90" stroke="#262626" stroke-width="1.0" />
<line x1="419.50" y1="229.50" x2="419.50" y2="231.90" stroke="#262626" stroke-width="1.0" />
<line x1="428.10" y1="229.50" x2="428.10" y2="231.90" stroke="#262626" stroke-width="1.0" />
<line x1="436.70" y1="229.50" x2="436.70" y2="231.90" stroke="#262626" stroke-width="1.0" />
<line x1="445.30" y1="229.50" x2="445.30" y2="231.90" stroke="#262626" stroke-width="1.0" />
<line x1="453.90" y1="229.50" x2="453.90" y2="231.90" stroke="#262626" stroke-width="1.0" />
<line x1="462.50" y1="229.50" x2="462.50" y2="231.90" stroke="#262626" stroke-width="1.0" />
<line x1="471.10" y1="229.50" x2="471.10" y2="231.90" stroke="#262626" stroke-width="1.0" />
<line x1="479.70" y1="229.50" x2="479.70" y2="231.90" stroke="#262626" stroke-width="1.0" />
<line x1="488.30" y1="229.50" x2="488.30" y2="231.90" stroke="#262626" stroke-width="1.0" />
<line x1="496.90" y1="229.50" x2="496.90" y2="231.90" stroke="#262626" stroke-width="1.0" />
<line x1="505.50" y1="229.50" x2="505.50" y2="231.90" stroke="#262626" stroke-width="1.0" />
<line x1="514.10" y1="229.50" x2="514.10" y2="231.90" stroke="#262626" stroke-width="1.0" />
<line x1="522.70" y1="229.50" x2="522.70" y2="231.90" stroke="#262626" stroke-width="1.0" />
<text x="393.30" y="240.00" font-size="6.5" font-weight="bold" text-anchor="start" fill="#000" stroke="#000" stroke-width="0.10"  >ZT</text>
<text x="410.90" y="240.00" font-size="6.5" font-weight="bold" text-anchor="middle" fill="#000" stroke="#000" stroke-width="0.10"  >2</text>
<text x="428.10" y="240.00" font-size="6.5" font-weight="bold" text-anchor="middle" fill="#000" stroke="#000" stroke-width="0.10"  >6</text>
<text x="445.30" y="240.00" font-size="6.5" font-weight="bold" text-anchor="middle" fill="#000" stroke="#000" stroke-width="0.10"  >10</text>
<text x="462.50" y="240.00" font-size="6.5" font-weight="bold" text-anchor="middle" fill="#000" stroke="#000" stroke-width="0.10"  >14</text>
<text x="479.70" y="240.00" font-size="6.5" font-weight="bold" text-anchor="middle" fill="#000" stroke="#000" stroke-width="0.10"  >18</text>
<text x="496.90" y="240.00" font-size="6.5" font-weight="bold" text-anchor="middle" fill="#000" stroke="#000" stroke-width="0.10"  >22</text>
<text x="514.10" y="240.00" font-size="6.5" font-weight="bold" text-anchor="middle" fill="#000" stroke="#000" stroke-width="0.10"  >2</text>
<text transform="translate(388.40,191.55) rotate(-90)" font-size="6.1" font-weight="bold" text-anchor="middle" fill="#000" stroke="#000" stroke-width="0.08">mRNA level of<tspan dx="2.3" font-size="6.6" font-style="italic">YTHDF2</tspan></text>
<line x1="410.90" y1="173.50" x2="410.90" y2="184.90" stroke="#111" stroke-width="1.2" />
<line x1="408.80" y1="173.50" x2="413.00" y2="173.50" stroke="#111" stroke-width="1.2" />
<line x1="408.80" y1="184.90" x2="413.00" y2="184.90" stroke="#111" stroke-width="1.2" />
<circle cx="410.90" cy="179.30" r="1.50" fill="#111"/>
<line x1="428.10" y1="181.80" x2="428.10" y2="188.00" stroke="#111" stroke-width="1.2" />
<line x1="426.00" y1="181.80" x2="430.20" y2="181.80" stroke="#111" stroke-width="1.2" />
<line x1="426.00" y1="188.00" x2="430.20" y2="188.00" stroke="#111" stroke-width="1.2" />
<circle cx="428.10" cy="184.90" r="1.50" fill="#111"/>
<line x1="445.30" y1="193.00" x2="445.30" y2="195.80" stroke="#111" stroke-width="1.2" />
<line x1="443.20" y1="193.00" x2="447.40" y2="193.00" stroke="#111" stroke-width="1.2" />
<line x1="443.20" y1="195.80" x2="447.40" y2="195.80" stroke="#111" stroke-width="1.2" />
<circle cx="445.30" cy="194.40" r="1.50" fill="#111"/>
<line x1="462.50" y1="196.30" x2="462.50" y2="199.90" stroke="#111" stroke-width="1.2" />
<line x1="460.40" y1="196.30" x2="464.60" y2="196.30" stroke="#111" stroke-width="1.2" />
<line x1="460.40" y1="199.90" x2="464.60" y2="199.90" stroke="#111" stroke-width="1.2" />
<circle cx="462.50" cy="197.90" r="1.50" fill="#111"/>
<line x1="479.70" y1="181.00" x2="479.70" y2="190.10" stroke="#111" stroke-width="1.2" />
<line x1="477.60" y1="181.00" x2="481.80" y2="181.00" stroke="#111" stroke-width="1.2" />
<line x1="477.60" y1="190.10" x2="481.80" y2="190.10" stroke="#111" stroke-width="1.2" />
<circle cx="479.70" cy="185.60" r="1.50" fill="#111"/>
<line x1="496.90" y1="177.40" x2="496.90" y2="191.80" stroke="#111" stroke-width="1.2" />
<line x1="494.80" y1="177.40" x2="499.00" y2="177.40" stroke="#111" stroke-width="1.2" />
<line x1="494.80" y1="191.80" x2="499.00" y2="191.80" stroke="#111" stroke-width="1.2" />
<circle cx="496.90" cy="184.60" r="1.50" fill="#111"/>
<line x1="514.10" y1="173.60" x2="514.10" y2="184.60" stroke="#111" stroke-width="1.2" />
<line x1="512.00" y1="173.60" x2="516.20" y2="173.60" stroke="#111" stroke-width="1.2" />
<line x1="512.00" y1="184.60" x2="516.20" y2="184.60" stroke="#111" stroke-width="1.2" />
<circle cx="514.10" cy="179.00" r="1.50" fill="#111"/>
<line x1="410.90" y1="185.00" x2="410.90" y2="201.60" stroke="#ff0000" stroke-width="1.2" />
<line x1="408.90" y1="185.00" x2="412.90" y2="185.00" stroke="#ff0000" stroke-width="1.2" />
<line x1="408.90" y1="201.60" x2="412.90" y2="201.60" stroke="#ff0000" stroke-width="1.2" />
<circle cx="410.90" cy="192.70" r="1.65" fill="#ff0000"/>
<line x1="428.10" y1="202.40" x2="428.10" y2="206.70" stroke="#ff0000" stroke-width="1.2" />
<line x1="426.10" y1="202.40" x2="430.10" y2="202.40" stroke="#ff0000" stroke-width="1.2" />
<line x1="426.10" y1="206.70" x2="430.10" y2="206.70" stroke="#ff0000" stroke-width="1.2" />
<circle cx="428.10" cy="204.50" r="1.65" fill="#ff0000"/>
<line x1="445.30" y1="200.90" x2="445.30" y2="207.40" stroke="#ff0000" stroke-width="1.2" />
<line x1="443.30" y1="200.90" x2="447.30" y2="200.90" stroke="#ff0000" stroke-width="1.2" />
<line x1="443.30" y1="207.40" x2="447.30" y2="207.40" stroke="#ff0000" stroke-width="1.2" />
<circle cx="445.30" cy="203.80" r="1.65" fill="#ff0000"/>
<line x1="462.50" y1="203.70" x2="462.50" y2="208.60" stroke="#ff0000" stroke-width="1.2" />
<line x1="460.50" y1="203.70" x2="464.50" y2="203.70" stroke="#ff0000" stroke-width="1.2" />
<line x1="460.50" y1="208.60" x2="464.50" y2="208.60" stroke="#ff0000" stroke-width="1.2" />
<circle cx="462.50" cy="206.20" r="1.65" fill="#ff0000"/>
<line x1="479.70" y1="202.50" x2="479.70" y2="206.20" stroke="#ff0000" stroke-width="1.2" />
<line x1="477.70" y1="202.50" x2="481.70" y2="202.50" stroke="#ff0000" stroke-width="1.2" />
<line x1="477.70" y1="206.20" x2="481.70" y2="206.20" stroke="#ff0000" stroke-width="1.2" />
<circle cx="479.70" cy="204.50" r="1.65" fill="#ff0000"/>
<line x1="496.90" y1="202.80" x2="496.90" y2="205.40" stroke="#ff0000" stroke-width="1.2" />
<line x1="494.90" y1="202.80" x2="498.90" y2="202.80" stroke="#ff0000" stroke-width="1.2" />
<line x1="494.90" y1="205.40" x2="498.90" y2="205.40" stroke="#ff0000" stroke-width="1.2" />
<circle cx="496.90" cy="204.10" r="1.65" fill="#ff0000"/>
<line x1="514.10" y1="184.60" x2="514.10" y2="202.10" stroke="#ff0000" stroke-width="1.2" />
<line x1="512.10" y1="184.60" x2="516.10" y2="184.60" stroke="#ff0000" stroke-width="1.2" />
<line x1="512.10" y1="202.10" x2="516.10" y2="202.10" stroke="#ff0000" stroke-width="1.2" />
<circle cx="514.10" cy="191.80" r="1.65" fill="#ff0000"/>
<path d="M410.90,179.28 L412.62,179.45 L414.34,179.71 L416.06,180.07 L417.78,180.51 L419.50,181.04 L421.22,181.64 L422.94,182.32 L424.66,183.06 L426.38,183.85 L428.10,184.69 L429.82,185.57 L431.54,186.48 L433.26,187.40 L434.98,188.33 L436.70,189.26 L438.42,190.18 L440.14,191.07 L441.86,191.93 L443.58,192.75 L445.30,193.52 L447.02,194.23 L448.74,194.87 L450.46,195.43 L452.18,195.92 L453.90,196.32 L455.62,196.63 L457.34,196.85 L459.06,196.97 L460.78,197.00 L462.50,196.92 L464.22,196.75 L465.94,196.49 L467.66,196.13 L469.38,195.69 L471.10,195.16 L472.82,194.56 L474.54,193.88 L476.26,193.14 L477.98,192.35 L479.70,191.51 L481.42,190.63 L483.14,189.72 L484.86,188.80 L486.58,187.87 L488.30,186.94 L490.02,186.02 L491.74,185.13 L493.46,184.27 L495.18,183.45 L496.90,182.68 L498.62,181.97 L500.34,181.33 L502.06,180.77 L503.78,180.28 L505.50,179.88 L507.22,179.57 L508.94,179.35 L510.66,179.23 L512.38,179.20 L514.10,179.28" fill="none" stroke="#111" stroke-width="0.9"/>
<path d="M410.90,196.05 L412.62,196.15 L414.34,196.32 L416.06,196.55 L417.78,196.83 L419.50,197.16 L421.22,197.54 L422.94,197.96 L424.66,198.43 L426.38,198.93 L428.10,199.46 L429.82,200.01 L431.54,200.58 L433.26,201.16 L434.98,201.75 L436.70,202.33 L438.42,202.91 L440.14,203.47 L441.86,204.01 L443.58,204.53 L445.30,205.01 L447.02,205.45 L448.74,205.86 L450.46,206.22 L452.18,206.52 L453.90,206.77 L455.62,206.97 L457.34,207.11 L459.06,207.18 L460.78,207.20 L462.50,207.15 L464.22,207.05 L465.94,206.88 L467.66,206.65 L469.38,206.37 L471.10,206.04 L472.82,205.66 L474.54,205.24 L476.26,204.77 L477.98,204.27 L479.70,203.74 L481.42,203.19 L483.14,202.62 L484.86,202.04 L486.58,201.45 L488.30,200.87 L490.02,200.29 L491.74,199.73 L493.46,199.19 L495.18,198.67 L496.90,198.19 L498.62,197.75 L500.34,197.34 L502.06,196.98 L503.78,196.68 L505.50,196.43 L507.22,196.23 L508.94,196.09 L510.66,196.02 L512.38,196.00 L514.10,196.05" fill="none" stroke="#ff0000" stroke-width="0.9"/>
<line x1="413.80" y1="149.80" x2="423.10" y2="149.80" stroke="#111" stroke-width="0.9" />
<circle cx="418.70" cy="149.8" r="1.2" fill="#111"/>
<text x="427.70" y="151.80" font-size="6.6" font-weight="normal" text-anchor="start" fill="#000" stroke="#000" stroke-width="0.18"  >CON</text>
<line x1="413.80" y1="158.50" x2="423.10" y2="158.50" stroke="#ff0000" stroke-width="0.9" />
<circle cx="418.70" cy="158.5" r="1.7" fill="#ff0000"/>
<text x="427.70" y="160.80" font-size="6.6" font-weight="normal" text-anchor="start" fill="#000" stroke="#000" stroke-width="0.18"  >CORT</text>
<text x="467.70" y="151.80" font-size="6.6" font-weight="normal" text-anchor="start" fill="#000" stroke="#000" stroke-width="0.18"  >R<tspan font-size="4.3" dy="-2.6">2</tspan><tspan dy="2.6">=0.89</tspan></text>
<text x="467.70" y="160.80" font-size="6.6" font-weight="normal" text-anchor="start" fill="#000" stroke="#000" stroke-width="0.18"  >R<tspan font-size="4.3" dy="-2.6">2</tspan><tspan dy="2.6">=0.57</tspan></text>
<text x="542.50" y="141.50" font-size="10.5" font-weight="bold" text-anchor="start" fill="#000" stroke="#000" stroke-width="0.12"  >G</text>
<rect x="614.50" y="151.4" width="51.60" height="78.10" fill="#d4d4d4"/>
<line x1="562.90" y1="182.50" x2="684.90" y2="182.50" stroke="#2a2a2a" stroke-width="1.5" stroke-dasharray="3.8 1.9"/>
<line x1="563.50" y1="154.40" x2="563.50" y2="231.90" stroke="#262626" stroke-width="1.1" />
<line x1="563.50" y1="229.50" x2="683.80" y2="229.50" stroke="#262626" stroke-width="1.0" />
<line x1="561.20" y1="229.40" x2="563.50" y2="229.40" stroke="#262626" stroke-width="1.0" />
<text x="560.60" y="231.40" font-size="5.7" font-weight="bold" text-anchor="end" fill="#000" stroke="#000" stroke-width="0.09"  >0.0</text>
<line x1="561.20" y1="204.56" x2="563.50" y2="204.56" stroke="#262626" stroke-width="1.0" />
<text x="560.60" y="206.56" font-size="5.7" font-weight="bold" text-anchor="end" fill="#000" stroke="#000" stroke-width="0.09"  >0.5</text>
<line x1="561.20" y1="179.73" x2="563.50" y2="179.73" stroke="#262626" stroke-width="1.0" />
<text x="560.60" y="181.73" font-size="5.7" font-weight="bold" text-anchor="end" fill="#000" stroke="#000" stroke-width="0.09"  >1.0</text>
<line x1="561.20" y1="154.90" x2="563.50" y2="154.90" stroke="#262626" stroke-width="1.0" />
<text x="560.60" y="156.90" font-size="5.7" font-weight="bold" text-anchor="end" fill="#000" stroke="#000" stroke-width="0.09"  >1.5</text>
<line x1="571.50" y1="229.50" x2="571.50" y2="231.90" stroke="#262626" stroke-width="1.0" />
<line x1="580.10" y1="229.50" x2="580.10" y2="231.90" stroke="#262626" stroke-width="1.0" />
<line x1="588.70" y1="229.50" x2="588.70" y2="231.90" stroke="#262626" stroke-width="1.0" />
<line x1="597.30" y1="229.50" x2="597.30" y2="231.90" stroke="#262626" stroke-width="1.0" />
<line x1="605.90" y1="229.50" x2="605.90" y2="231.90" stroke="#262626" stroke-width="1.0" />
<line x1="614.50" y1="229.50" x2="614.50" y2="231.90" stroke="#262626" stroke-width="1.0" />
<line x1="623.10" y1="229.50" x2="623.10" y2="231.90" stroke="#262626" stroke-width="1.0" />
<line x1="631.70" y1="229.50" x2="631.70" y2="231.90" stroke="#262626" stroke-width="1.0" />
<line x1="640.30" y1="229.50" x2="640.30" y2="231.90" stroke="#262626" stroke-width="1.0" />
<line x1="648.90" y1="229.50" x2="648.90" y2="231.90" stroke="#262626" stroke-width="1.0" />
<line x1="657.50" y1="229.50" x2="657.50" y2="231.90" stroke="#262626" stroke-width="1.0" />
<line x1="666.10" y1="229.50" x2="666.10" y2="231.90" stroke="#262626" stroke-width="1.0" />
<line x1="674.70" y1="229.50" x2="674.70" y2="231.90" stroke="#262626" stroke-width="1.0" />
<line x1="683.30" y1="229.50" x2="683.30" y2="231.90" stroke="#262626" stroke-width="1.0" />
<text x="553.90" y="240.00" font-size="6.5" font-weight="bold" text-anchor="start" fill="#000" stroke="#000" stroke-width="0.10"  >ZT</text>
<text x="571.50" y="240.00" font-size="6.5" font-weight="bold" text-anchor="middle" fill="#000" stroke="#000" stroke-width="0.10"  >2</text>
<text x="588.70" y="240.00" font-size="6.5" font-weight="bold" text-anchor="middle" fill="#000" stroke="#000" stroke-width="0.10"  >6</text>
<text x="605.90" y="240.00" font-size="6.5" font-weight="bold" text-anchor="middle" fill="#000" stroke="#000" stroke-width="0.10"  >10</text>
<text x="623.10" y="240.00" font-size="6.5" font-weight="bold" text-anchor="middle" fill="#000" stroke="#000" stroke-width="0.10"  >14</text>
<text x="640.30" y="240.00" font-size="6.5" font-weight="bold" text-anchor="middle" fill="#000" stroke="#000" stroke-width="0.10"  >18</text>
<text x="657.50" y="240.00" font-size="6.5" font-weight="bold" text-anchor="middle" fill="#000" stroke="#000" stroke-width="0.10"  >22</text>
<text x="674.70" y="240.00" font-size="6.5" font-weight="bold" text-anchor="middle" fill="#000" stroke="#000" stroke-width="0.10"  >2</text>
<text transform="translate(549.00,191.55) rotate(-90)" font-size="6.1" font-weight="bold" text-anchor="middle" fill="#000" stroke="#000" stroke-width="0.08">mRNA level of<tspan dx="2.3" font-size="6.6" font-style="italic">YTHDF3</tspan></text>
<line x1="571.50" y1="173.40" x2="571.50" y2="181.60" stroke="#111" stroke-width="1.2" />
<line x1="569.40" y1="173.40" x2="573.60" y2="173.40" stroke="#111" stroke-width="1.2" />
<line x1="569.40" y1="181.60" x2="573.60" y2="181.60" stroke="#111" stroke-width="1.2" />
<circle cx="571.50" cy="178.10" r="1.50" fill="#111"/>
<line x1="588.70" y1="170.30" x2="588.70" y2="176.90" stroke="#111" stroke-width="1.2" />
<line x1="586.60" y1="170.30" x2="590.80" y2="170.30" stroke="#111" stroke-width="1.2" />
<line x1="586.60" y1="176.90" x2="590.80" y2="176.90" stroke="#111" stroke-width="1.2" />
<circle cx="588.70" cy="174.00" r="1.50" fill="#111"/>
<line x1="605.90" y1="180.20" x2="605.90" y2="187.20" stroke="#111" stroke-width="1.2" />
<line x1="603.80" y1="180.20" x2="608.00" y2="180.20" stroke="#111" stroke-width="1.2" />
<line x1="603.80" y1="187.20" x2="608.00" y2="187.20" stroke="#111" stroke-width="1.2" />
<circle cx="605.90" cy="183.70" r="1.50" fill="#111"/>
<line x1="623.10" y1="185.70" x2="623.10" y2="189.90" stroke="#111" stroke-width="1.2" />
<line x1="621.00" y1="185.70" x2="625.20" y2="185.70" stroke="#111" stroke-width="1.2" />
<line x1="621.00" y1="189.90" x2="625.20" y2="189.90" stroke="#111" stroke-width="1.2" />
<circle cx="623.10" cy="187.80" r="1.50" fill="#111"/>
<line x1="640.30" y1="180.60" x2="640.30" y2="190.50" stroke="#111" stroke-width="1.2" />
<line x1="638.20" y1="180.60" x2="642.40" y2="180.60" stroke="#111" stroke-width="1.2" />
<line x1="638.20" y1="190.50" x2="642.40" y2="190.50" stroke="#111" stroke-width="1.2" />
<circle cx="640.30" cy="185.70" r="1.50" fill="#111"/>
<line x1="657.50" y1="171.90" x2="657.50" y2="190.50" stroke="#111" stroke-width="1.2" />
<line x1="655.40" y1="171.90" x2="659.60" y2="171.90" stroke="#111" stroke-width="1.2" />
<line x1="655.40" y1="190.50" x2="659.60" y2="190.50" stroke="#111" stroke-width="1.2" />
<circle cx="657.50" cy="181.00" r="1.50" fill="#111"/>
<line x1="674.70" y1="173.40" x2="674.70" y2="180.60" stroke="#111" stroke-width="1.2" />
<line x1="672.60" y1="173.40" x2="676.80" y2="173.40" stroke="#111" stroke-width="1.2" />
<line x1="672.60" y1="180.60" x2="676.80" y2="180.60" stroke="#111" stroke-width="1.2" />
<circle cx="674.70" cy="178.10" r="1.50" fill="#111"/>
<line x1="571.50" y1="180.20" x2="571.50" y2="186.40" stroke="#ff0000" stroke-width="1.2" />
<line x1="569.50" y1="180.20" x2="573.50" y2="180.20" stroke="#ff0000" stroke-width="1.2" />
<line x1="569.50" y1="186.40" x2="573.50" y2="186.40" stroke="#ff0000" stroke-width="1.2" />
<rect x="569.85" y="182.65" width="3.3" height="3.3" fill="#ff0000"/>
<line x1="588.70" y1="193.40" x2="588.70" y2="203.30" stroke="#ff0000" stroke-width="1.2" />
<line x1="586.70" y1="193.40" x2="590.70" y2="193.40" stroke="#ff0000" stroke-width="1.2" />
<line x1="586.70" y1="203.30" x2="590.70" y2="203.30" stroke="#ff0000" stroke-width="1.2" />
<rect x="587.05" y="196.45" width="3.3" height="3.3" fill="#ff0000"/>
<line x1="605.90" y1="193.00" x2="605.90" y2="200.20" stroke="#ff0000" stroke-width="1.2" />
<line x1="603.90" y1="193.00" x2="607.90" y2="193.00" stroke="#ff0000" stroke-width="1.2" />
<line x1="603.90" y1="200.20" x2="607.90" y2="200.20" stroke="#ff0000" stroke-width="1.2" />
<rect x="604.25" y="195.05" width="3.3" height="3.3" fill="#ff0000"/>
<line x1="623.10" y1="189.90" x2="623.10" y2="196.60" stroke="#ff0000" stroke-width="1.2" />
<line x1="621.10" y1="189.90" x2="625.10" y2="189.90" stroke="#ff0000" stroke-width="1.2" />
<line x1="621.10" y1="196.60" x2="625.10" y2="196.60" stroke="#ff0000" stroke-width="1.2" />
<rect x="621.45" y="191.25" width="3.3" height="3.3" fill="#ff0000"/>
<line x1="640.30" y1="193.40" x2="640.30" y2="198.70" stroke="#ff0000" stroke-width="1.2" />
<line x1="638.30" y1="193.40" x2="642.30" y2="193.40" stroke="#ff0000" stroke-width="1.2" />
<line x1="638.30" y1="198.70" x2="642.30" y2="198.70" stroke="#ff0000" stroke-width="1.2" />
<rect x="638.65" y="194.35" width="3.3" height="3.3" fill="#ff0000"/>
<rect x="655.85" y="193.75" width="3.3" height="3.3" fill="#ff0000"/>
<line x1="674.70" y1="181.60" x2="674.70" y2="186.80" stroke="#ff0000" stroke-width="1.2" />
<line x1="672.70" y1="181.60" x2="676.70" y2="181.60" stroke="#ff0000" stroke-width="1.2" />
<line x1="672.70" y1="186.80" x2="676.70" y2="186.80" stroke="#ff0000" stroke-width="1.2" />
<rect x="673.05" y="182.65" width="3.3" height="3.3" fill="#ff0000"/>
<path d="M571.50,176.74 L573.22,176.36 L574.94,176.03 L576.66,175.77 L578.38,175.58 L580.10,175.46 L581.82,175.40 L583.54,175.42 L585.26,175.51 L586.98,175.67 L588.70,175.89 L590.42,176.19 L592.14,176.54 L593.86,176.96 L595.58,177.43 L597.30,177.94 L599.02,178.50 L600.74,179.10 L602.46,179.73 L604.18,180.38 L605.90,181.05 L607.62,181.73 L609.34,182.41 L611.06,183.08 L612.78,183.75 L614.50,184.39 L616.22,185.00 L617.94,185.58 L619.66,186.12 L621.38,186.61 L623.10,187.06 L624.82,187.44 L626.54,187.77 L628.26,188.03 L629.98,188.22 L631.70,188.34 L633.42,188.40 L635.14,188.38 L636.86,188.29 L638.58,188.13 L640.30,187.91 L642.02,187.61 L643.74,187.26 L645.46,186.84 L647.18,186.37 L648.90,185.86 L650.62,185.30 L652.34,184.70 L654.06,184.07 L655.78,183.42 L657.50,182.75 L659.22,182.07 L660.94,181.39 L662.66,180.72 L664.38,180.05 L666.10,179.41 L667.82,178.80 L669.54,178.22 L671.26,177.68 L672.98,177.19 L674.70,176.74" fill="none" stroke="#111" stroke-width="0.9"/>
<line x1="574.40" y1="149.80" x2="583.70" y2="149.80" stroke="#111" stroke-width="0.9" />
<circle cx="579.30" cy="149.8" r="1.2" fill="#111"/>
<text x="588.30" y="151.80" font-size="6.6" font-weight="normal" text-anchor="start" fill="#000" stroke="#000" stroke-width="0.18"  >CON</text>
<rect x="577.70" y="156.90" width="3.2" height="3.2" fill="#ff0000"/>
<text x="588.30" y="160.80" font-size="6.6" font-weight="normal" text-anchor="start" fill="#000" stroke="#000" stroke-width="0.18"  >CORT</text>
<text x="628.30" y="151.80" font-size="6.6" font-weight="normal" text-anchor="start" fill="#000" stroke="#000" stroke-width="0.18"  >R<tspan font-size="4.3" dy="-2.6">2</tspan><tspan dy="2.6">=0.78</tspan></text>
<text x="628.30" y="160.80" font-size="6.6" font-weight="normal" text-anchor="start" fill="#000" stroke="#000" stroke-width="0.18"  >R<tspan font-size="4.3" dy="-2.6">2</tspan><tspan dy="2.6">=0.36</tspan></text>
</svg>
</body></html>
